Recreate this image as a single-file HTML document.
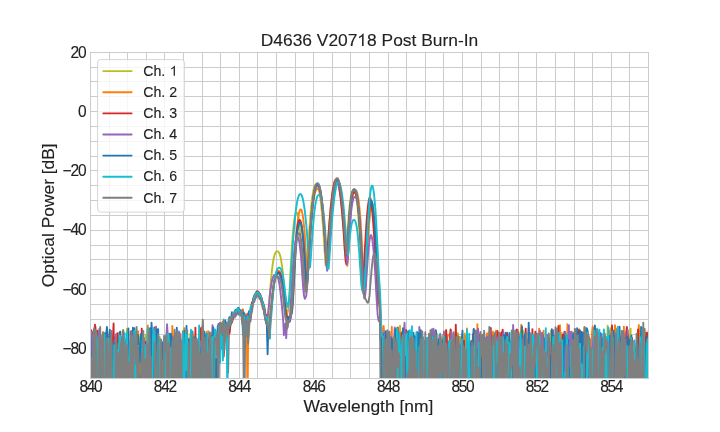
<!DOCTYPE html><html><head><meta charset="utf-8"><style>html,body{margin:0;padding:0;background:#fff;overflow:hidden}svg{display:block;will-change:transform}</style></head><body>
<svg width="720" height="432" viewBox="0 0 720 432" font-family="Liberation Sans, sans-serif">
<style>text{stroke:#222;stroke-width:0.12px}</style>
<rect width="720" height="432" fill="#fff"/>
<defs><clipPath id="ax"><rect x="90.0" y="52.0" width="559.0" height="327.0"/></clipPath></defs>
<path d="M90.5 52.5V378.5M109.5 52.5V378.5M127.5 52.5V378.5M146.5 52.5V378.5M164.5 52.5V378.5M183.5 52.5V378.5M202.5 52.5V378.5M220.5 52.5V378.5M239.5 52.5V378.5M257.5 52.5V378.5M276.5 52.5V378.5M295.5 52.5V378.5M313.5 52.5V378.5M332.5 52.5V378.5M350.5 52.5V378.5M369.5 52.5V378.5M388.5 52.5V378.5M406.5 52.5V378.5M425.5 52.5V378.5M443.5 52.5V378.5M462.5 52.5V378.5M481.5 52.5V378.5M499.5 52.5V378.5M518.5 52.5V378.5M536.5 52.5V378.5M555.5 52.5V378.5M574.5 52.5V378.5M592.5 52.5V378.5M611.5 52.5V378.5M629.5 52.5V378.5M648.5 52.5V378.5M90.5 52.5H648.5M90.5 67.5H648.5M90.5 81.5H648.5M90.5 96.5H648.5M90.5 111.5H648.5M90.5 126.5H648.5M90.5 141.5H648.5M90.5 156.5H648.5M90.5 170.5H648.5M90.5 185.5H648.5M90.5 200.5H648.5M90.5 215.5H648.5M90.5 230.5H648.5M90.5 245.5H648.5M90.5 259.5H648.5M90.5 274.5H648.5M90.5 289.5H648.5M90.5 304.5H648.5M90.5 319.5H648.5M90.5 334.5H648.5M90.5 348.5H648.5M90.5 363.5H648.5M90.5 378.5H648.5" stroke="#cccccc" stroke-width="1" fill="none"/>
<g clip-path="url(#ax)" fill="none" stroke-width="1.9" stroke-linejoin="round" stroke-linecap="round">
<path d="M90.5 408.1L91.2 353.2L92.0 408.1L92.7 408.1L93.5 408.1L94.2 408.1L95.0 373.8L95.7 333.8L96.5 408.1L97.2 408.1L97.9 346.8L98.7 350.9L99.4 366.6L100.2 408.1L100.9 408.1L101.7 342.3L102.4 408.1L103.1 408.1L103.9 408.1L104.6 408.1L105.4 408.1L106.1 408.1L106.9 408.1L107.6 354.4L108.4 361.5L109.1 408.1L109.8 408.1L110.6 408.1L111.3 408.1L112.1 365.6L112.8 408.1L113.6 408.1L114.3 408.1L115.1 408.1L115.8 336.8L116.5 408.1L117.3 408.1L118.0 339.2L118.8 408.1L119.5 408.1L120.3 366.0L121.0 373.0L121.7 408.1L122.5 370.7L123.2 333.7L124.0 408.1L124.7 339.6L125.5 365.0L126.2 408.1L127.0 328.7L127.7 341.1L128.4 408.1L129.2 371.0L129.9 344.7L130.7 408.1L131.4 342.5L132.2 408.1L132.9 342.8L133.7 332.9L134.4 408.1L135.1 358.1L135.9 408.1L136.6 364.1L137.4 408.1L138.1 408.1L138.9 408.1L139.6 339.0L140.3 335.9L141.1 408.1L141.8 408.1L142.6 343.2L143.3 408.1L144.1 408.1L144.8 408.1L145.6 334.7L146.3 342.4L147.0 408.1L147.8 408.1L148.5 408.1L149.3 332.2L150.0 408.1L150.8 408.1L151.5 351.0L152.3 408.1L153.0 408.1L153.7 408.1L154.5 408.1L155.2 408.1L156.0 335.6L156.7 343.1L157.5 408.1L158.2 342.8L158.9 408.1L159.7 336.9L160.4 408.1L161.2 344.5L161.9 408.1L162.7 351.2L163.4 408.1L164.2 408.1L164.9 408.1L165.6 408.1L166.4 360.9L167.1 327.2L167.9 408.1L168.6 408.1L169.4 358.0L170.1 346.7L170.9 408.1L171.6 408.1L172.3 342.1L173.1 346.0L173.8 408.1L174.6 408.1L175.3 380.6L176.1 408.1L176.8 354.9L177.5 408.1L178.3 338.0L179.0 358.8L179.8 368.7L180.5 408.1L181.3 408.1L182.0 408.1L182.8 408.1L183.5 350.7L184.2 408.1L185.0 339.7L185.7 408.1L186.5 341.2L187.2 408.1L188.0 340.8L188.7 363.8L189.5 408.1L190.2 334.7L190.9 332.9L191.7 408.1L192.4 408.1L193.2 408.1L193.9 408.1L194.7 336.4L195.4 408.1L196.1 408.1L196.9 408.1L197.6 408.1L198.4 408.1L199.1 334.7L199.9 408.1L200.6 338.0L201.4 393.2L202.1 408.1L202.8 408.1L203.6 408.1L204.3 399.1L205.1 408.1L205.8 408.1L206.6 408.1L207.3 408.1L208.1 331.0L208.8 408.1L209.5 408.1L210.3 350.0L211.0 332.6L211.8 408.1L212.5 408.1L213.3 408.1L214.0 408.1L214.7 335.9L215.5 346.2L216.2 341.2L217.0 366.6L217.7 332.4L218.5 342.4L219.2 334.5L220.0 347.1L220.7 346.1L221.4 322.7L222.2 333.2L222.9 327.2L223.7 329.2L224.4 332.4L225.2 333.1L225.9 325.6L226.7 331.2L227.4 329.5L228.1 327.3L228.9 321.0L229.6 321.4L230.4 320.8L231.1 322.3L231.9 323.0L232.6 314.3L233.3 312.8L234.1 313.6L234.8 311.5L235.6 310.3L236.3 309.7L237.1 309.3L237.8 310.9L238.6 308.7L239.3 312.7L240.0 310.6L240.8 312.1L241.5 312.7L242.3 309.5L243.0 311.7L243.8 328.0L244.5 344.5L245.3 317.7L246.0 335.6L246.7 323.5L247.5 317.4L248.2 337.9L249.0 335.6L249.7 312.7L250.5 310.1L251.2 307.4L251.9 303.7L252.7 301.7L253.4 299.5L254.2 296.4L254.9 295.0L255.7 293.8L256.4 291.8L257.2 291.4L257.9 291.2L258.6 292.4L259.4 293.3L260.1 294.9L260.9 296.7L261.6 298.3L262.4 301.5L263.1 303.3L263.9 306.3L264.6 307.1L265.3 317.2L266.1 314.9L266.8 320.7L267.6 321.0L268.3 320.8L269.1 307.2L269.8 295.4L270.5 285.8L271.3 277.1L272.0 269.8L272.8 263.9L273.5 259.3L274.3 255.9L275.0 253.6L275.8 252.2L276.5 251.5L277.2 251.3L278.0 251.5L278.7 252.1L279.5 253.6L280.2 255.9L281.0 259.3L281.7 263.8L282.5 269.7L283.2 276.8L283.9 285.2L284.7 294.2L285.4 303.1L286.2 309.9L286.9 314.3L287.7 312.2L288.4 309.6L289.1 299.1L289.9 285.3L290.6 269.9L291.4 255.9L292.1 243.8L292.9 233.7L293.6 225.7L294.4 219.6L295.1 215.5L295.8 213.2L296.6 212.5L297.3 213.2L298.1 215.5L298.8 219.6L299.6 225.7L300.3 233.7L301.1 243.7L301.8 255.6L302.5 268.9L303.3 281.9L304.0 290.2L304.8 292.7L305.5 289.7L306.3 281.9L307.0 269.7L307.7 256.2L308.5 243.2L309.2 231.4L310.0 221.0L310.7 211.9L311.5 204.2L312.2 197.9L313.0 192.9L313.7 189.1L314.4 186.4L315.2 184.8L315.9 184.1L316.7 184.1L317.4 184.8L318.2 186.4L318.9 189.1L319.7 192.9L320.4 197.9L321.1 204.2L321.9 211.9L322.6 220.9L323.4 231.3L324.1 243.0L324.9 255.3L325.6 265.2L326.3 265.5L327.1 256.6L327.8 245.4L328.6 234.4L329.3 224.3L330.1 215.1L330.8 206.9L331.6 199.8L332.3 193.7L333.0 188.7L333.8 184.8L334.5 181.9L335.3 180.1L336.0 179.4L336.8 179.6L337.5 180.9L338.3 183.2L339.0 186.6L339.7 191.1L340.5 196.6L341.2 203.2L342.0 210.8L342.7 219.5L343.5 229.2L344.2 239.8L344.9 250.6L345.7 257.4L346.4 251.6L347.2 238.9L347.9 226.6L348.7 216.2L349.4 207.7L350.2 201.1L350.9 196.2L351.6 193.0L352.4 191.1L353.1 190.4L353.9 190.4L354.6 191.1L355.4 193.0L356.1 196.2L356.9 201.1L357.6 207.7L358.3 216.2L359.1 226.7L359.8 239.2L360.6 253.7L361.3 269.4L362.1 283.1L362.8 291.4L363.5 293.6L364.3 291.9L365.0 285.9L365.8 273.8L366.5 259.3L367.3 245.3L368.0 232.9L368.8 222.4L369.5 214.0L370.2 207.7L371.0 203.7L371.7 202.2L372.5 203.7L373.2 207.7L374.0 214.0L374.7 222.4L375.5 232.9L376.2 245.4L376.9 259.5L377.7 274.9L378.4 289.9L379.2 300.2L379.9 305.8L380.7 327.0L381.4 355.3L382.1 408.1L382.9 408.1L383.6 340.5L384.4 408.1L385.1 357.3L385.9 337.6L386.6 408.1L387.4 408.1L388.1 360.0L388.8 349.7L389.6 408.1L390.3 337.2L391.1 357.7L391.8 408.1L392.6 408.1L393.3 340.4L394.1 347.5L394.8 408.1L395.5 333.8L396.3 344.2L397.0 333.8L397.8 408.1L398.5 408.1L399.3 408.1L400.0 325.6L400.7 408.1L401.5 331.7L402.2 408.1L403.0 360.9L403.7 408.1L404.5 408.1L405.2 337.8L406.0 408.1L406.7 336.7L407.4 351.6L408.2 408.1L408.9 408.1L409.7 408.1L410.4 408.1L411.2 408.1L411.9 408.1L412.7 408.1L413.4 408.1L414.1 408.1L414.9 408.1L415.6 339.2L416.4 408.1L417.1 408.1L417.9 408.1L418.6 408.1L419.3 339.6L420.1 408.1L420.8 332.4L421.6 408.1L422.3 349.8L423.1 408.1L423.8 408.1L424.6 344.4L425.3 408.1L426.0 344.1L426.8 408.1L427.5 408.1L428.3 408.1L429.0 375.7L429.8 338.1L430.5 408.1L431.3 408.1L432.0 408.1L432.7 343.1L433.5 408.1L434.2 408.1L435.0 408.1L435.7 336.3L436.5 408.1L437.2 408.1L437.9 408.1L438.7 408.1L439.4 350.1L440.2 408.1L440.9 408.1L441.7 344.5L442.4 408.1L443.2 348.4L443.9 408.1L444.6 408.1L445.4 408.1L446.1 329.6L446.9 408.1L447.6 355.8L448.4 408.1L449.1 361.2L449.9 376.2L450.6 329.3L451.3 408.1L452.1 408.1L452.8 408.1L453.6 408.1L454.3 341.4L455.1 340.2L455.8 408.1L456.5 408.1L457.3 408.1L458.0 333.4L458.8 408.1L459.5 345.9L460.3 408.1L461.0 337.1L461.8 408.1L462.5 408.1L463.2 408.1L464.0 408.1L464.7 333.4L465.5 340.1L466.2 408.1L467.0 408.1L467.7 408.1L468.5 408.1L469.2 408.1L469.9 408.1L470.7 408.1L471.4 408.1L472.2 408.1L472.9 408.1L473.7 334.3L474.4 329.6L475.1 408.1L475.9 408.1L476.6 408.1L477.4 408.1L478.1 408.1L478.9 408.1L479.6 408.1L480.4 344.0L481.1 408.1L481.8 355.4L482.6 408.1L483.3 408.1L484.1 408.1L484.8 408.1L485.6 408.1L486.3 356.3L487.1 408.1L487.8 408.1L488.5 372.4L489.3 408.1L490.0 408.1L490.8 408.1L491.5 408.1L492.3 368.4L493.0 361.9L493.7 408.1L494.5 408.1L495.2 408.1L496.0 408.1L496.7 408.1L497.5 408.1L498.2 368.4L499.0 408.1L499.7 356.2L500.4 362.6L501.2 408.1L501.9 408.1L502.7 345.2L503.4 408.1L504.2 347.6L504.9 355.8L505.7 353.8L506.4 349.9L507.1 408.1L507.9 408.1L508.6 343.4L509.4 348.4L510.1 357.9L510.9 408.1L511.6 345.6L512.3 335.6L513.1 337.5L513.8 356.3L514.6 408.1L515.3 338.4L516.1 408.1L516.8 408.1L517.6 350.2L518.3 408.1L519.0 408.1L519.8 408.1L520.5 334.5L521.3 408.1L522.0 354.4L522.8 330.4L523.5 331.6L524.3 408.1L525.0 408.1L525.7 408.1L526.5 408.1L527.2 348.6L528.0 349.5L528.7 366.0L529.5 337.7L530.2 408.1L530.9 408.1L531.7 341.6L532.4 344.5L533.2 336.7L533.9 349.5L534.7 408.1L535.4 350.7L536.2 408.1L536.9 408.1L537.6 344.6L538.4 408.1L539.1 352.7L539.9 408.1L540.6 408.1L541.4 408.1L542.1 408.1L542.9 408.1L543.6 408.1L544.3 339.0L545.1 350.0L545.8 408.1L546.6 408.1L547.3 341.2L548.1 408.1L548.8 408.1L549.5 345.5L550.3 342.5L551.0 330.8L551.8 336.0L552.5 352.6L553.3 353.0L554.0 340.7L554.8 408.1L555.5 408.1L556.2 338.9L557.0 329.0L557.7 408.1L558.5 408.1L559.2 358.4L560.0 333.8L560.7 408.1L561.5 332.6L562.2 408.1L562.9 408.1L563.7 408.1L564.4 340.7L565.2 337.0L565.9 408.1L566.7 408.1L567.4 351.6L568.1 408.1L568.9 408.1L569.6 337.1L570.4 346.7L571.1 346.7L571.9 408.1L572.6 337.2L573.4 408.1L574.1 336.4L574.8 408.1L575.6 408.1L576.3 358.0L577.1 408.1L577.8 342.7L578.6 354.9L579.3 408.1L580.1 371.3L580.8 408.1L581.5 338.7L582.3 408.1L583.0 408.1L583.8 335.1L584.5 327.2L585.3 328.7L586.0 373.1L586.7 357.2L587.5 332.1L588.2 408.1L589.0 408.1L589.7 365.2L590.5 347.8L591.2 408.1L592.0 408.1L592.7 408.1L593.4 342.8L594.2 408.1L594.9 408.1L595.7 357.5L596.4 343.8L597.2 408.1L597.9 346.6L598.7 408.1L599.4 408.1L600.1 408.1L600.9 336.0L601.6 408.1L602.4 408.1L603.1 408.1L603.9 408.1L604.6 342.2L605.3 408.1L606.1 408.1L606.8 408.1L607.6 325.6L608.3 338.2L609.1 408.1L609.8 342.0L610.6 328.3L611.3 408.1L612.0 408.1L612.8 335.1L613.5 346.7L614.3 342.7L615.0 408.1L615.8 329.2L616.5 330.7L617.3 344.9L618.0 342.5L618.7 408.1L619.5 343.4L620.2 408.1L621.0 348.3L621.7 342.5L622.5 408.1L623.2 408.1L623.9 350.5L624.7 408.1L625.4 408.1L626.2 408.1L626.9 408.1L627.7 408.1L628.4 335.1L629.2 355.3L629.9 336.2L630.6 328.8L631.4 386.4L632.1 408.1L632.9 408.1L633.6 408.1L634.4 408.1L635.1 370.2L635.9 408.1L636.6 351.4L637.3 408.1L638.1 353.2L638.8 408.1L639.6 408.1L640.3 408.1L641.1 408.1L641.8 408.1L642.5 408.1L643.3 408.1L644.0 329.7L644.8 328.8L645.5 334.0L646.3 342.1L647.0 408.1L647.8 332.9L648.5 408.1" stroke="#bcbd22"/>
<path d="M90.5 408.1L91.2 408.1L92.0 368.3L92.7 408.1L93.5 408.1L94.2 408.1L95.0 408.1L95.7 327.0L96.5 408.1L97.2 408.1L97.9 345.7L98.7 342.0L99.4 408.1L100.2 408.1L100.9 338.7L101.7 354.5L102.4 364.7L103.1 331.9L103.9 408.1L104.6 369.7L105.4 408.1L106.1 332.5L106.9 408.1L107.6 408.1L108.4 408.1L109.1 342.9L109.8 344.0L110.6 333.3L111.3 408.1L112.1 341.3L112.8 408.1L113.6 408.1L114.3 345.5L115.1 408.1L115.8 408.1L116.5 408.1L117.3 408.1L118.0 408.1L118.8 350.3L119.5 352.6L120.3 331.7L121.0 408.1L121.7 408.1L122.5 408.1L123.2 408.1L124.0 408.1L124.7 348.3L125.5 408.1L126.2 408.1L127.0 342.2L127.7 408.1L128.4 350.9L129.2 366.5L129.9 343.5L130.7 379.7L131.4 334.9L132.2 348.6L132.9 349.7L133.7 349.1L134.4 408.1L135.1 408.1L135.9 408.1L136.6 357.8L137.4 408.1L138.1 331.3L138.9 366.7L139.6 408.1L140.3 408.1L141.1 408.1L141.8 408.1L142.6 408.1L143.3 368.3L144.1 408.1L144.8 345.3L145.6 408.1L146.3 408.1L147.0 337.9L147.8 325.4L148.5 408.1L149.3 408.1L150.0 408.1L150.8 340.7L151.5 408.1L152.3 408.1L153.0 408.1L153.7 408.1L154.5 408.1L155.2 408.1L156.0 408.1L156.7 408.1L157.5 408.1L158.2 362.2L158.9 408.1L159.7 408.1L160.4 408.1L161.2 340.5L161.9 345.2L162.7 408.1L163.4 408.1L164.2 343.5L164.9 408.1L165.6 408.1L166.4 408.1L167.1 332.8L167.9 357.1L168.6 335.7L169.4 408.1L170.1 338.4L170.9 408.1L171.6 408.1L172.3 325.9L173.1 341.0L173.8 408.1L174.6 408.1L175.3 352.0L176.1 335.1L176.8 408.1L177.5 408.1L178.3 408.1L179.0 391.3L179.8 366.1L180.5 334.1L181.3 352.4L182.0 340.3L182.8 408.1L183.5 339.4L184.2 328.1L185.0 340.9L185.7 355.3L186.5 361.7L187.2 330.1L188.0 408.1L188.7 408.1L189.5 347.6L190.2 341.4L190.9 408.1L191.7 352.8L192.4 408.1L193.2 364.8L193.9 408.1L194.7 408.1L195.4 408.1L196.1 339.3L196.9 408.1L197.6 408.1L198.4 342.9L199.1 408.1L199.9 359.5L200.6 408.1L201.4 336.0L202.1 326.8L202.8 328.5L203.6 408.1L204.3 341.5L205.1 364.7L205.8 366.8L206.6 332.0L207.3 408.1L208.1 336.8L208.8 408.1L209.5 332.9L210.3 356.5L211.0 408.1L211.8 350.1L212.5 339.2L213.3 355.4L214.0 340.7L214.7 408.1L215.5 408.1L216.2 331.7L217.0 331.9L217.7 335.4L218.5 334.2L219.2 326.1L220.0 336.0L220.7 337.3L221.4 331.1L222.2 323.0L222.9 344.9L223.7 322.8L224.4 334.2L225.2 340.1L225.9 322.7L226.7 329.7L227.4 341.6L228.1 329.7L228.9 321.9L229.6 319.7L230.4 324.0L231.1 318.9L231.9 316.4L232.6 318.1L233.3 314.0L234.1 313.4L234.8 313.0L235.6 312.0L236.3 310.6L237.1 310.3L237.8 311.0L238.6 311.1L239.3 309.6L240.0 311.5L240.8 311.5L241.5 312.2L242.3 313.4L243.0 309.5L243.8 325.0L244.5 316.8L245.3 325.4L246.0 314.0L246.7 314.7L247.5 408.1L248.2 329.3L249.0 315.1L249.7 312.0L250.5 309.3L251.2 308.3L251.9 304.2L252.7 301.6L253.4 299.7L254.2 296.9L254.9 297.0L255.7 293.9L256.4 293.7L257.2 292.2L257.9 292.7L258.6 293.6L259.4 294.0L260.1 296.2L260.9 298.0L261.6 300.9L262.4 302.2L263.1 304.4L263.9 306.7L264.6 311.8L265.3 312.9L266.1 319.0L266.8 323.5L267.6 323.8L268.3 323.7L269.1 334.4L269.8 328.9L270.5 319.6L271.3 309.4L272.0 300.9L272.8 292.4L273.5 286.2L274.3 280.9L275.0 277.0L275.8 274.1L276.5 272.2L277.2 271.2L278.0 270.8L278.7 270.8L279.5 271.1L280.2 272.1L281.0 274.1L281.7 276.9L282.5 280.7L283.2 285.7L283.9 291.9L284.7 299.1L285.4 307.6L286.2 312.9L286.9 320.3L287.7 317.0L288.4 318.4L289.1 317.3L289.9 315.3L290.6 313.4L291.4 313.9L292.1 311.1L292.9 303.1L293.6 290.1L294.4 274.3L295.1 259.4L295.8 246.3L296.6 235.2L297.3 226.2L298.1 219.1L298.8 214.1L299.6 210.9L300.3 209.4L301.1 209.4L301.8 210.9L302.5 214.1L303.3 219.1L304.0 226.2L304.8 235.2L305.5 246.2L306.3 258.9L307.0 271.5L307.7 276.2L308.5 267.1L309.2 254.3L310.0 241.9L310.7 230.7L311.5 221.0L312.2 212.6L313.0 205.6L313.7 200.0L314.4 195.5L315.2 192.3L315.9 190.2L316.7 189.1L317.4 188.8L318.2 189.1L318.9 190.2L319.7 192.3L320.4 195.5L321.1 200.0L321.9 205.6L322.6 212.6L323.4 221.0L324.1 230.7L324.9 241.7L325.6 253.6L326.3 264.3L327.1 267.0L327.8 259.5L328.6 248.4L329.3 237.2L330.1 226.7L330.8 217.3L331.6 208.8L332.3 201.5L333.0 195.1L333.8 189.9L334.5 185.7L335.3 182.6L336.0 180.5L336.8 179.5L337.5 179.5L338.3 180.5L339.0 182.6L339.7 185.7L340.5 189.9L341.2 195.1L342.0 201.5L342.7 208.8L343.5 217.3L344.2 226.7L344.9 237.2L345.7 248.3L346.4 259.4L347.2 265.9L347.9 259.4L348.7 245.9L349.4 232.6L350.2 221.2L350.9 211.7L351.6 204.2L352.4 198.4L353.1 194.4L353.9 191.9L354.6 190.6L355.4 190.3L356.1 190.6L356.9 191.9L357.6 194.4L358.3 198.4L359.1 204.2L359.8 211.7L360.6 221.2L361.3 232.7L362.1 246.3L362.8 261.5L363.5 276.9L364.3 287.5L365.0 287.7L365.8 278.2L366.5 264.5L367.3 250.8L368.0 238.5L368.8 228.0L369.5 219.6L370.2 213.3L371.0 209.3L371.7 207.8L372.5 209.3L373.2 213.3L374.0 219.6L374.7 228.1L375.5 238.5L376.2 251.0L376.9 265.1L377.7 280.2L378.4 294.4L379.2 305.8L379.9 310.1L380.7 320.3L381.4 340.8L382.1 366.3L382.9 336.6L383.6 326.0L384.4 334.2L385.1 362.9L385.9 350.9L386.6 343.8L387.4 408.1L388.1 408.1L388.8 375.5L389.6 408.1L390.3 408.1L391.1 367.7L391.8 326.7L392.6 408.1L393.3 408.1L394.1 408.1L394.8 348.2L395.5 337.0L396.3 408.1L397.0 408.1L397.8 408.1L398.5 408.1L399.3 345.6L400.0 377.3L400.7 408.1L401.5 408.1L402.2 382.1L403.0 346.4L403.7 408.1L404.5 408.1L405.2 408.1L406.0 408.1L406.7 331.4L407.4 408.1L408.2 408.1L408.9 357.1L409.7 408.1L410.4 408.1L411.2 408.1L411.9 408.1L412.7 408.1L413.4 408.1L414.1 408.1L414.9 408.1L415.6 408.1L416.4 356.7L417.1 343.3L417.9 339.0L418.6 408.1L419.3 338.6L420.1 335.5L420.8 336.0L421.6 333.4L422.3 408.1L423.1 408.1L423.8 340.1L424.6 408.1L425.3 357.7L426.0 408.1L426.8 408.1L427.5 408.1L428.3 408.1L429.0 408.1L429.8 339.1L430.5 337.7L431.3 408.1L432.0 408.1L432.7 408.1L433.5 349.3L434.2 408.1L435.0 344.1L435.7 330.4L436.5 408.1L437.2 408.1L437.9 408.1L438.7 408.1L439.4 408.1L440.2 334.2L440.9 356.7L441.7 408.1L442.4 343.1L443.2 334.6L443.9 408.1L444.6 408.1L445.4 408.1L446.1 353.8L446.9 343.3L447.6 335.4L448.4 335.1L449.1 335.4L449.9 333.6L450.6 342.9L451.3 408.1L452.1 408.1L452.8 352.5L453.6 408.1L454.3 338.8L455.1 408.1L455.8 408.1L456.5 332.9L457.3 342.8L458.0 357.1L458.8 338.6L459.5 336.8L460.3 351.4L461.0 408.1L461.8 408.1L462.5 408.1L463.2 408.1L464.0 358.4L464.7 335.3L465.5 408.1L466.2 408.1L467.0 328.5L467.7 408.1L468.5 408.1L469.2 356.1L469.9 348.6L470.7 408.1L471.4 340.6L472.2 408.1L472.9 408.1L473.7 359.8L474.4 341.0L475.1 408.1L475.9 351.8L476.6 408.1L477.4 324.2L478.1 408.1L478.9 333.4L479.6 408.1L480.4 408.1L481.1 341.8L481.8 339.0L482.6 334.6L483.3 351.9L484.1 408.1L484.8 408.1L485.6 346.3L486.3 344.6L487.1 333.3L487.8 348.8L488.5 336.8L489.3 332.2L490.0 360.8L490.8 408.1L491.5 408.1L492.3 408.1L493.0 331.6L493.7 408.1L494.5 334.9L495.2 344.5L496.0 330.7L496.7 337.6L497.5 408.1L498.2 408.1L499.0 369.3L499.7 360.0L500.4 408.1L501.2 408.1L501.9 331.5L502.7 408.1L503.4 355.0L504.2 408.1L504.9 359.2L505.7 339.8L506.4 408.1L507.1 340.9L507.9 408.1L508.6 336.3L509.4 408.1L510.1 343.7L510.9 359.5L511.6 408.1L512.3 408.1L513.1 357.1L513.8 331.9L514.6 353.7L515.3 355.1L516.1 408.1L516.8 333.0L517.6 330.0L518.3 383.4L519.0 408.1L519.8 408.1L520.5 339.2L521.3 324.8L522.0 341.9L522.8 334.6L523.5 345.5L524.3 408.1L525.0 333.9L525.7 408.1L526.5 408.1L527.2 354.0L528.0 339.2L528.7 348.9L529.5 349.8L530.2 408.1L530.9 408.1L531.7 373.5L532.4 408.1L533.2 408.1L533.9 408.1L534.7 408.1L535.4 408.1L536.2 408.1L536.9 408.1L537.6 359.5L538.4 349.1L539.1 328.6L539.9 408.1L540.6 408.1L541.4 338.8L542.1 408.1L542.9 408.1L543.6 330.7L544.3 408.1L545.1 408.1L545.8 408.1L546.6 351.7L547.3 352.9L548.1 408.1L548.8 408.1L549.5 345.7L550.3 344.7L551.0 408.1L551.8 343.7L552.5 344.8L553.3 408.1L554.0 408.1L554.8 348.9L555.5 408.1L556.2 408.1L557.0 408.1L557.7 341.3L558.5 331.7L559.2 408.1L560.0 325.2L560.7 408.1L561.5 338.2L562.2 334.9L562.9 337.8L563.7 362.1L564.4 408.1L565.2 343.6L565.9 408.1L566.7 408.1L567.4 324.2L568.1 342.0L568.9 329.9L569.6 408.1L570.4 332.7L571.1 331.6L571.9 331.9L572.6 408.1L573.4 408.1L574.1 408.1L574.8 408.1L575.6 408.1L576.3 368.3L577.1 408.1L577.8 408.1L578.6 408.1L579.3 329.1L580.1 334.2L580.8 408.1L581.5 335.2L582.3 408.1L583.0 408.1L583.8 338.8L584.5 408.1L585.3 408.1L586.0 408.1L586.7 365.2L587.5 331.3L588.2 408.1L589.0 356.8L589.7 408.1L590.5 408.1L591.2 408.1L592.0 332.8L592.7 326.5L593.4 347.0L594.2 408.1L594.9 342.1L595.7 408.1L596.4 340.5L597.2 353.5L597.9 354.0L598.7 344.0L599.4 408.1L600.1 408.1L600.9 408.1L601.6 408.1L602.4 408.1L603.1 408.1L603.9 408.1L604.6 367.1L605.3 347.8L606.1 408.1L606.8 408.1L607.6 408.1L608.3 341.4L609.1 330.7L609.8 339.7L610.6 408.1L611.3 332.7L612.0 408.1L612.8 332.4L613.5 408.1L614.3 408.1L615.0 325.1L615.8 331.7L616.5 408.1L617.3 360.5L618.0 408.1L618.7 367.0L619.5 408.1L620.2 408.1L621.0 347.4L621.7 356.9L622.5 335.3L623.2 370.2L623.9 326.6L624.7 408.1L625.4 355.0L626.2 408.1L626.9 408.1L627.7 333.9L628.4 408.1L629.2 345.8L629.9 408.1L630.6 408.1L631.4 408.1L632.1 408.1L632.9 408.1L633.6 341.2L634.4 343.1L635.1 408.1L635.9 408.1L636.6 353.9L637.3 408.1L638.1 337.2L638.8 325.0L639.6 339.8L640.3 408.1L641.1 408.1L641.8 408.1L642.5 408.1L643.3 408.1L644.0 408.1L644.8 408.1L645.5 341.4L646.3 408.1L647.0 408.1L647.8 408.1L648.5 331.2" stroke="#ff7f0e"/>
<path d="M90.5 346.3L91.2 330.1L92.0 340.5L92.7 332.5L93.5 408.1L94.2 341.9L95.0 324.8L95.7 408.1L96.5 335.5L97.2 330.8L97.9 348.7L98.7 341.0L99.4 334.4L100.2 408.1L100.9 348.8L101.7 408.1L102.4 408.1L103.1 408.1L103.9 408.1L104.6 362.0L105.4 347.5L106.1 408.1L106.9 328.5L107.6 335.4L108.4 341.4L109.1 408.1L109.8 408.1L110.6 345.0L111.3 348.7L112.1 408.1L112.8 341.1L113.6 323.5L114.3 408.1L115.1 337.4L115.8 350.1L116.5 408.1L117.3 333.2L118.0 408.1L118.8 360.6L119.5 332.4L120.3 408.1L121.0 408.1L121.7 365.1L122.5 408.1L123.2 331.6L124.0 408.1L124.7 339.0L125.5 408.1L126.2 342.4L127.0 408.1L127.7 408.1L128.4 408.1L129.2 408.1L129.9 408.1L130.7 331.7L131.4 408.1L132.2 408.1L132.9 332.5L133.7 365.0L134.4 331.7L135.1 351.8L135.9 408.1L136.6 408.1L137.4 334.6L138.1 338.0L138.9 408.1L139.6 376.1L140.3 408.1L141.1 408.1L141.8 328.8L142.6 400.8L143.3 408.1L144.1 408.1L144.8 341.4L145.6 343.0L146.3 408.1L147.0 408.1L147.8 385.3L148.5 408.1L149.3 408.1L150.0 340.1L150.8 408.1L151.5 349.9L152.3 334.7L153.0 342.8L153.7 387.2L154.5 327.5L155.2 342.4L156.0 408.1L156.7 341.3L157.5 348.8L158.2 408.1L158.9 370.9L159.7 408.1L160.4 408.1L161.2 408.1L161.9 408.1L162.7 408.1L163.4 408.1L164.2 408.1L164.9 408.1L165.6 366.6L166.4 408.1L167.1 343.1L167.9 408.1L168.6 408.1L169.4 333.8L170.1 408.1L170.9 408.1L171.6 336.3L172.3 408.1L173.1 408.1L173.8 356.7L174.6 336.6L175.3 408.1L176.1 408.1L176.8 408.1L177.5 408.1L178.3 408.1L179.0 408.1L179.8 352.7L180.5 408.1L181.3 364.3L182.0 349.0L182.8 408.1L183.5 363.5L184.2 330.9L185.0 351.9L185.7 408.1L186.5 408.1L187.2 408.1L188.0 354.1L188.7 339.2L189.5 408.1L190.2 408.1L190.9 335.9L191.7 408.1L192.4 358.8L193.2 408.1L193.9 408.1L194.7 408.1L195.4 327.6L196.1 408.1L196.9 408.1L197.6 408.1L198.4 408.1L199.1 343.0L199.9 359.0L200.6 328.3L201.4 357.5L202.1 332.8L202.8 354.1L203.6 344.1L204.3 408.1L205.1 408.1L205.8 408.1L206.6 408.1L207.3 408.1L208.1 339.1L208.8 408.1L209.5 408.1L210.3 408.1L211.0 408.1L211.8 346.3L212.5 408.1L213.3 408.1L214.0 344.4L214.7 345.3L215.5 361.3L216.2 365.7L217.0 386.2L217.7 337.8L218.5 326.3L219.2 350.8L220.0 323.0L220.7 325.4L221.4 333.4L222.2 324.8L222.9 346.8L223.7 356.5L224.4 343.0L225.2 332.3L225.9 331.6L226.7 333.0L227.4 327.8L228.1 372.3L228.9 323.6L229.6 333.2L230.4 325.1L231.1 321.7L231.9 322.1L232.6 320.4L233.3 317.2L234.1 313.4L234.8 311.4L235.6 310.6L236.3 312.0L237.1 311.4L237.8 311.5L238.6 310.0L239.3 314.0L240.0 310.1L240.8 313.5L241.5 315.5L242.3 314.3L243.0 313.2L243.8 317.5L244.5 315.6L245.3 321.7L246.0 316.4L246.7 316.3L247.5 323.1L248.2 313.5L249.0 316.3L249.7 313.4L250.5 313.1L251.2 307.6L251.9 302.6L252.7 302.2L253.4 298.1L254.2 296.1L254.9 294.4L255.7 294.1L256.4 292.1L257.2 291.2L257.9 291.7L258.6 292.0L259.4 294.1L260.1 294.1L260.9 296.7L261.6 297.9L262.4 302.6L263.1 303.2L263.9 307.3L264.6 309.1L265.3 316.5L266.1 320.2L266.8 315.0L267.6 332.4L268.3 336.9L269.1 333.9L269.8 338.1L270.5 316.6L271.3 309.4L272.0 302.3L272.8 294.6L273.5 287.4L274.3 282.3L275.0 278.4L275.8 275.5L276.5 273.8L277.2 272.7L278.0 272.4L278.7 272.4L279.5 272.6L280.2 273.7L281.0 275.4L281.7 278.3L282.5 282.3L283.2 287.1L283.9 293.0L284.7 300.3L285.4 308.9L286.2 313.9L286.9 316.2L287.7 320.6L288.4 320.8L289.1 316.6L289.9 316.8L290.6 317.0L291.4 312.6L292.1 305.0L292.9 291.6L293.6 277.0L294.4 263.1L295.1 251.1L295.8 241.1L296.6 233.1L297.3 227.0L298.1 222.9L298.8 220.6L299.6 219.9L300.3 220.6L301.1 222.9L301.8 227.0L302.5 233.0L303.3 241.0L304.0 250.9L304.8 262.6L305.5 275.0L306.3 284.7L307.0 285.4L307.7 276.3L308.5 263.3L309.2 249.9L310.0 237.5L310.7 226.3L311.5 216.5L312.2 208.2L313.0 201.2L313.7 195.5L314.4 191.1L315.2 187.9L315.9 185.8L316.7 184.7L317.4 184.4L318.2 184.7L318.9 185.8L319.7 187.9L320.4 191.1L321.1 195.5L321.9 201.2L322.6 208.2L323.4 216.5L324.1 226.2L324.9 237.2L325.6 248.8L326.3 257.2L327.1 255.0L327.8 245.2L328.6 234.4L329.3 224.3L330.1 215.1L330.8 206.9L331.6 199.8L332.3 193.7L333.0 188.7L333.8 184.8L334.5 181.9L335.3 180.1L336.0 179.4L336.8 179.6L337.5 180.9L338.3 183.2L339.0 186.6L339.7 191.1L340.5 196.6L341.2 203.2L342.0 210.8L342.7 219.5L343.5 229.3L344.2 239.9L344.9 251.2L345.7 261.5L346.4 264.2L347.2 254.3L347.9 240.8L348.7 228.4L349.4 217.9L350.2 209.5L350.9 202.9L351.6 198.0L352.4 194.7L353.1 192.9L353.9 192.1L354.6 192.1L355.4 192.9L356.1 194.7L356.9 198.0L357.6 202.9L358.3 209.5L359.1 218.0L359.8 228.5L360.6 241.0L361.3 255.3L362.1 270.2L362.8 280.2L363.5 275.6L364.3 261.9L365.0 247.4L365.8 234.1L366.5 222.7L367.3 213.2L368.0 205.8L368.8 200.6L369.5 197.8L370.2 197.8L371.0 200.6L371.7 205.8L372.5 213.2L373.2 222.7L374.0 234.2L374.7 247.5L375.5 262.5L376.2 277.9L376.9 291.3L377.7 299.4L378.4 303.3L379.2 302.9L379.9 305.3L380.7 320.5L381.4 328.4L382.1 408.1L382.9 339.8L383.6 408.1L384.4 408.1L385.1 408.1L385.9 408.1L386.6 336.2L387.4 364.5L388.1 408.1L388.8 408.1L389.6 351.4L390.3 408.1L391.1 408.1L391.8 408.1L392.6 408.1L393.3 408.1L394.1 408.1L394.8 328.7L395.5 333.9L396.3 347.9L397.0 408.1L397.8 327.5L398.5 352.1L399.3 408.1L400.0 353.0L400.7 352.8L401.5 333.2L402.2 408.1L403.0 328.1L403.7 408.1L404.5 342.3L405.2 408.1L406.0 329.9L406.7 408.1L407.4 408.1L408.2 338.6L408.9 334.7L409.7 408.1L410.4 408.1L411.2 408.1L411.9 363.2L412.7 408.1L413.4 408.1L414.1 408.1L414.9 408.1L415.6 408.1L416.4 345.8L417.1 332.2L417.9 408.1L418.6 408.1L419.3 408.1L420.1 346.7L420.8 408.1L421.6 408.1L422.3 408.1L423.1 342.3L423.8 367.3L424.6 408.1L425.3 350.4L426.0 408.1L426.8 408.1L427.5 344.3L428.3 353.6L429.0 408.1L429.8 337.8L430.5 335.1L431.3 408.1L432.0 408.1L432.7 332.0L433.5 333.1L434.2 408.1L435.0 408.1L435.7 408.1L436.5 408.1L437.2 408.1L437.9 382.2L438.7 408.1L439.4 408.1L440.2 338.7L440.9 408.1L441.7 408.1L442.4 343.6L443.2 340.3L443.9 408.1L444.6 377.8L445.4 408.1L446.1 330.4L446.9 343.1L447.6 408.1L448.4 408.1L449.1 341.9L449.9 347.1L450.6 329.8L451.3 333.5L452.1 408.1L452.8 408.1L453.6 408.1L454.3 355.5L455.1 361.9L455.8 324.8L456.5 367.6L457.3 408.1L458.0 408.1L458.8 365.7L459.5 408.1L460.3 408.1L461.0 408.1L461.8 351.4L462.5 408.1L463.2 408.1L464.0 340.7L464.7 408.1L465.5 408.1L466.2 408.1L467.0 408.1L467.7 343.1L468.5 408.1L469.2 408.1L469.9 341.9L470.7 408.1L471.4 356.0L472.2 408.1L472.9 334.1L473.7 336.4L474.4 356.2L475.1 408.1L475.9 408.1L476.6 337.9L477.4 330.7L478.1 353.2L478.9 334.8L479.6 408.1L480.4 408.1L481.1 408.1L481.8 348.7L482.6 408.1L483.3 338.4L484.1 334.0L484.8 408.1L485.6 408.1L486.3 351.1L487.1 408.1L487.8 408.1L488.5 340.3L489.3 361.5L490.0 408.1L490.8 328.0L491.5 363.0L492.3 408.1L493.0 367.1L493.7 408.1L494.5 408.1L495.2 349.8L496.0 408.1L496.7 408.1L497.5 331.0L498.2 339.5L499.0 340.4L499.7 345.8L500.4 346.9L501.2 332.8L501.9 408.1L502.7 329.6L503.4 408.1L504.2 408.1L504.9 408.1L505.7 408.1L506.4 346.1L507.1 332.8L507.9 408.1L508.6 405.0L509.4 408.1L510.1 408.1L510.9 408.1L511.6 373.7L512.3 408.1L513.1 365.9L513.8 387.4L514.6 408.1L515.3 408.1L516.1 408.1L516.8 329.5L517.6 408.1L518.3 331.9L519.0 344.2L519.8 408.1L520.5 408.1L521.3 337.1L522.0 330.5L522.8 408.1L523.5 408.1L524.3 337.0L525.0 351.6L525.7 328.7L526.5 408.1L527.2 345.5L528.0 408.1L528.7 328.1L529.5 408.1L530.2 408.1L530.9 408.1L531.7 408.1L532.4 329.2L533.2 408.1L533.9 408.1L534.7 344.3L535.4 331.7L536.2 408.1L536.9 337.1L537.6 346.1L538.4 408.1L539.1 370.5L539.9 383.3L540.6 408.1L541.4 335.1L542.1 408.1L542.9 335.6L543.6 338.2L544.3 408.1L545.1 408.1L545.8 408.1L546.6 347.2L547.3 341.4L548.1 353.7L548.8 337.7L549.5 408.1L550.3 356.3L551.0 408.1L551.8 341.1L552.5 361.7L553.3 408.1L554.0 335.7L554.8 342.3L555.5 408.1L556.2 379.1L557.0 408.1L557.7 336.8L558.5 325.9L559.2 408.1L560.0 371.0L560.7 408.1L561.5 351.1L562.2 343.3L562.9 334.4L563.7 408.1L564.4 331.8L565.2 408.1L565.9 354.1L566.7 335.7L567.4 342.0L568.1 408.1L568.9 408.1L569.6 408.1L570.4 408.1L571.1 335.8L571.9 408.1L572.6 347.4L573.4 344.0L574.1 345.1L574.8 347.4L575.6 332.2L576.3 346.8L577.1 339.6L577.8 345.0L578.6 330.1L579.3 408.1L580.1 334.4L580.8 408.1L581.5 408.1L582.3 408.1L583.0 408.1L583.8 408.1L584.5 408.1L585.3 346.7L586.0 408.1L586.7 333.0L587.5 354.4L588.2 408.1L589.0 408.1L589.7 408.1L590.5 408.1L591.2 408.1L592.0 403.3L592.7 408.1L593.4 408.1L594.2 408.1L594.9 408.1L595.7 361.2L596.4 329.6L597.2 343.7L597.9 408.1L598.7 408.1L599.4 408.1L600.1 408.1L600.9 341.7L601.6 408.1L602.4 373.3L603.1 408.1L603.9 368.4L604.6 333.3L605.3 408.1L606.1 408.1L606.8 408.1L607.6 339.3L608.3 408.1L609.1 408.1L609.8 408.1L610.6 408.1L611.3 347.3L612.0 325.5L612.8 408.1L613.5 338.2L614.3 355.4L615.0 408.1L615.8 408.1L616.5 408.1L617.3 408.1L618.0 329.1L618.7 408.1L619.5 350.0L620.2 351.8L621.0 408.1L621.7 362.1L622.5 339.3L623.2 361.8L623.9 348.8L624.7 342.3L625.4 408.1L626.2 332.6L626.9 327.0L627.7 337.9L628.4 337.4L629.2 408.1L629.9 408.1L630.6 408.1L631.4 408.1L632.1 338.0L632.9 408.1L633.6 408.1L634.4 408.1L635.1 408.1L635.9 368.6L636.6 408.1L637.3 408.1L638.1 329.4L638.8 408.1L639.6 408.1L640.3 408.1L641.1 335.3L641.8 328.0L642.5 351.8L643.3 408.1L644.0 408.1L644.8 336.8L645.5 408.1L646.3 332.8L647.0 333.1L647.8 371.8L648.5 343.2" stroke="#d62728"/>
<path d="M90.5 341.3L91.2 331.9L92.0 408.1L92.7 335.5L93.5 408.1L94.2 408.1L95.0 366.9L95.7 408.1L96.5 408.1L97.2 408.1L97.9 408.1L98.7 332.8L99.4 328.9L100.2 343.1L100.9 335.4L101.7 408.1L102.4 408.1L103.1 353.9L103.9 408.1L104.6 408.1L105.4 367.6L106.1 408.1L106.9 408.1L107.6 349.8L108.4 408.1L109.1 337.3L109.8 408.1L110.6 408.1L111.3 364.1L112.1 408.1L112.8 408.1L113.6 408.1L114.3 341.3L115.1 343.2L115.8 334.4L116.5 408.1L117.3 408.1L118.0 408.1L118.8 360.3L119.5 408.1L120.3 408.1L121.0 340.8L121.7 359.8L122.5 408.1L123.2 333.9L124.0 337.6L124.7 408.1L125.5 340.0L126.2 408.1L127.0 336.1L127.7 408.1L128.4 408.1L129.2 408.1L129.9 408.1L130.7 358.8L131.4 360.0L132.2 380.5L132.9 408.1L133.7 408.1L134.4 368.2L135.1 408.1L135.9 355.7L136.6 336.0L137.4 354.3L138.1 408.1L138.9 408.1L139.6 408.1L140.3 408.1L141.1 408.1L141.8 408.1L142.6 335.4L143.3 408.1L144.1 338.2L144.8 408.1L145.6 371.4L146.3 408.1L147.0 347.5L147.8 340.1L148.5 356.0L149.3 408.1L150.0 408.1L150.8 331.1L151.5 408.1L152.3 408.1L153.0 332.7L153.7 336.5L154.5 345.7L155.2 408.1L156.0 326.6L156.7 349.6L157.5 345.4L158.2 408.1L158.9 408.1L159.7 408.1L160.4 349.2L161.2 349.7L161.9 408.1L162.7 408.1L163.4 408.1L164.2 408.1L164.9 408.1L165.6 339.0L166.4 335.8L167.1 324.2L167.9 339.3L168.6 408.1L169.4 408.1L170.1 408.1L170.9 408.1L171.6 408.1L172.3 338.0L173.1 343.9L173.8 344.4L174.6 357.5L175.3 342.9L176.1 332.8L176.8 408.1L177.5 408.1L178.3 408.1L179.0 331.4L179.8 334.3L180.5 341.3L181.3 408.1L182.0 360.2L182.8 408.1L183.5 370.0L184.2 408.1L185.0 346.0L185.7 408.1L186.5 339.6L187.2 355.9L188.0 408.1L188.7 408.1L189.5 408.1L190.2 340.3L190.9 408.1L191.7 353.3L192.4 408.1L193.2 408.1L193.9 338.9L194.7 408.1L195.4 342.6L196.1 348.8L196.9 408.1L197.6 408.1L198.4 408.1L199.1 408.1L199.9 408.1L200.6 341.5L201.4 408.1L202.1 349.9L202.8 408.1L203.6 352.9L204.3 408.1L205.1 408.1L205.8 344.5L206.6 376.6L207.3 408.1L208.1 408.1L208.8 359.4L209.5 350.3L210.3 408.1L211.0 408.1L211.8 343.3L212.5 325.1L213.3 408.1L214.0 343.4L214.7 340.7L215.5 408.1L216.2 340.3L217.0 362.0L217.7 326.2L218.5 337.9L219.2 343.4L220.0 333.6L220.7 329.4L221.4 334.4L222.2 329.6L222.9 344.4L223.7 330.6L224.4 324.8L225.2 320.2L225.9 325.5L226.7 327.8L227.4 323.0L228.1 323.1L228.9 320.0L229.6 320.9L230.4 324.1L231.1 320.7L231.9 319.1L232.6 317.0L233.3 315.8L234.1 316.3L234.8 317.6L235.6 313.8L236.3 315.5L237.1 311.8L237.8 311.8L238.6 314.6L239.3 311.5L240.0 312.0L240.8 314.1L241.5 312.8L242.3 310.4L243.0 328.1L243.8 315.6L244.5 319.9L245.3 321.5L246.0 319.2L246.7 336.1L247.5 332.4L248.2 332.5L249.0 326.8L249.7 318.2L250.5 321.5L251.2 314.6L251.9 306.7L252.7 305.2L253.4 302.3L254.2 302.1L254.9 299.2L255.7 297.5L256.4 296.1L257.2 295.9L257.9 295.1L258.6 296.2L259.4 297.2L260.1 298.6L260.9 299.9L261.6 303.1L262.4 303.9L263.1 307.4L263.9 310.9L264.6 314.5L265.3 316.6L266.1 317.7L266.8 318.7L267.6 317.8L268.3 310.5L269.1 303.8L269.8 295.7L270.5 290.0L271.3 285.1L272.0 280.7L272.8 278.0L273.5 276.2L274.3 275.1L275.0 274.8L275.8 274.6L276.5 275.1L277.2 276.2L278.0 277.9L278.7 280.8L279.5 284.5L280.2 290.1L281.0 296.9L281.7 303.7L282.5 312.4L283.2 320.8L283.9 335.2L284.7 327.0L285.4 323.5L286.2 338.1L286.9 323.4L287.7 327.5L288.4 319.0L289.1 320.9L289.9 316.8L290.6 305.4L291.4 292.7L292.1 279.5L292.9 267.6L293.6 257.6L294.4 249.6L295.1 243.6L295.8 239.5L296.6 237.2L297.3 236.5L298.1 237.2L298.8 239.5L299.6 243.6L300.3 249.6L301.1 257.4L301.8 267.1L302.5 278.2L303.3 288.7L304.0 295.8L304.8 298.8L305.5 297.7L306.3 295.4L307.0 288.8L307.7 278.2L308.5 264.9L309.2 251.5L310.0 239.0L310.7 227.8L311.5 218.0L312.2 209.7L313.0 202.7L313.7 197.0L314.4 192.6L315.2 189.4L315.9 187.3L316.7 186.1L317.4 185.9L318.2 186.1L318.9 187.3L319.7 189.4L320.4 192.6L321.1 197.0L321.9 202.7L322.6 209.7L323.4 218.0L324.1 227.8L324.9 238.8L325.6 251.0L326.3 263.2L327.1 270.7L327.8 267.5L328.6 257.5L329.3 246.2L330.1 235.4L330.8 225.4L331.6 216.5L332.3 208.6L333.0 201.7L333.8 195.9L334.5 191.2L335.3 187.6L336.0 185.0L336.8 183.4L337.5 182.9L338.3 183.4L339.0 185.0L339.7 187.6L340.5 191.2L341.2 195.9L342.0 201.7L342.7 208.6L343.5 216.5L344.2 225.4L344.9 235.4L345.7 246.2L346.4 257.2L347.2 264.0L347.9 258.1L348.7 245.4L349.4 233.1L350.2 222.7L350.9 214.2L351.6 207.6L352.4 202.7L353.1 199.5L353.9 197.6L354.6 196.9L355.4 196.9L356.1 197.6L356.9 199.5L357.6 202.7L358.3 207.6L359.1 214.2L359.8 222.7L360.6 233.2L361.3 245.8L362.1 260.3L362.8 276.1L363.5 290.4L364.3 298.3L365.0 296.7L365.8 288.8L366.5 277.0L367.3 265.3L368.0 255.1L368.8 246.8L369.5 240.5L370.2 236.5L371.0 235.0L371.7 236.5L372.5 240.6L373.2 246.8L374.0 255.3L374.7 265.6L375.5 277.9L376.2 291.7L376.9 303.4L377.7 315.1L378.4 319.9L379.2 321.7L379.9 318.6L380.7 339.4L381.4 333.7L382.1 408.1L382.9 408.1L383.6 333.0L384.4 332.6L385.1 346.2L385.9 356.7L386.6 360.7L387.4 408.1L388.1 332.1L388.8 343.0L389.6 346.4L390.3 350.2L391.1 337.0L391.8 346.4L392.6 341.4L393.3 408.1L394.1 346.3L394.8 327.5L395.5 408.1L396.3 408.1L397.0 339.1L397.8 338.2L398.5 343.7L399.3 408.1L400.0 346.5L400.7 408.1L401.5 408.1L402.2 345.3L403.0 408.1L403.7 340.3L404.5 322.8L405.2 340.8L406.0 341.8L406.7 408.1L407.4 408.1L408.2 408.1L408.9 408.1L409.7 408.1L410.4 408.1L411.2 408.1L411.9 408.1L412.7 408.1L413.4 408.1L414.1 347.8L414.9 373.9L415.6 337.3L416.4 337.0L417.1 408.1L417.9 342.8L418.6 408.1L419.3 327.0L420.1 335.3L420.8 408.1L421.6 408.1L422.3 350.1L423.1 408.1L423.8 408.1L424.6 341.3L425.3 370.9L426.0 408.1L426.8 338.3L427.5 408.1L428.3 353.8L429.0 408.1L429.8 408.1L430.5 347.5L431.3 408.1L432.0 329.3L432.7 408.1L433.5 328.7L434.2 408.1L435.0 344.0L435.7 408.1L436.5 408.1L437.2 361.2L437.9 342.6L438.7 408.1L439.4 335.4L440.2 408.1L440.9 363.7L441.7 350.1L442.4 344.3L443.2 408.1L443.9 331.4L444.6 345.0L445.4 408.1L446.1 408.1L446.9 408.1L447.6 408.1L448.4 345.4L449.1 408.1L449.9 408.1L450.6 408.1L451.3 331.8L452.1 408.1L452.8 408.1L453.6 333.7L454.3 347.5L455.1 377.7L455.8 408.1L456.5 408.1L457.3 408.1L458.0 408.1L458.8 408.1L459.5 350.9L460.3 345.3L461.0 356.9L461.8 357.1L462.5 408.1L463.2 408.1L464.0 408.1L464.7 408.1L465.5 408.1L466.2 408.1L467.0 408.1L467.7 408.1L468.5 408.1L469.2 365.4L469.9 408.1L470.7 346.6L471.4 408.1L472.2 408.1L472.9 378.8L473.7 329.5L474.4 408.1L475.1 335.6L475.9 333.5L476.6 332.4L477.4 408.1L478.1 328.6L478.9 365.3L479.6 408.1L480.4 408.1L481.1 344.1L481.8 375.9L482.6 408.1L483.3 334.4L484.1 408.1L484.8 408.1L485.6 340.6L486.3 342.1L487.1 336.4L487.8 408.1L488.5 336.6L489.3 347.0L490.0 330.3L490.8 408.1L491.5 357.2L492.3 408.1L493.0 408.1L493.7 408.1L494.5 336.1L495.2 408.1L496.0 408.1L496.7 339.4L497.5 337.7L498.2 337.8L499.0 408.1L499.7 408.1L500.4 337.2L501.2 408.1L501.9 408.1L502.7 340.0L503.4 331.9L504.2 408.1L504.9 408.1L505.7 408.1L506.4 408.1L507.1 408.1L507.9 343.8L508.6 408.1L509.4 408.1L510.1 361.7L510.9 408.1L511.6 408.1L512.3 408.1L513.1 324.9L513.8 340.2L514.6 408.1L515.3 408.1L516.1 408.1L516.8 408.1L517.6 408.1L518.3 408.1L519.0 339.2L519.8 408.1L520.5 408.1L521.3 408.1L522.0 408.1L522.8 408.1L523.5 408.1L524.3 336.0L525.0 408.1L525.7 336.9L526.5 355.1L527.2 408.1L528.0 408.1L528.7 408.1L529.5 341.5L530.2 333.3L530.9 357.9L531.7 341.1L532.4 408.1L533.2 408.1L533.9 408.1L534.7 337.9L535.4 351.4L536.2 408.1L536.9 408.1L537.6 345.1L538.4 352.1L539.1 408.1L539.9 330.7L540.6 355.1L541.4 396.3L542.1 332.6L542.9 337.3L543.6 408.1L544.3 345.6L545.1 408.1L545.8 408.1L546.6 408.1L547.3 335.0L548.1 408.1L548.8 342.5L549.5 408.1L550.3 408.1L551.0 408.1L551.8 354.6L552.5 343.9L553.3 330.2L554.0 350.8L554.8 339.2L555.5 408.1L556.2 341.9L557.0 361.7L557.7 408.1L558.5 408.1L559.2 408.1L560.0 358.9L560.7 349.4L561.5 408.1L562.2 408.1L562.9 341.3L563.7 408.1L564.4 408.1L565.2 331.9L565.9 408.1L566.7 408.1L567.4 342.4L568.1 408.1L568.9 325.3L569.6 408.1L570.4 332.9L571.1 331.9L571.9 338.7L572.6 408.1L573.4 350.9L574.1 408.1L574.8 340.3L575.6 408.1L576.3 408.1L577.1 337.7L577.8 408.1L578.6 408.1L579.3 360.9L580.1 408.1L580.8 335.6L581.5 351.5L582.3 408.1L583.0 408.1L583.8 408.1L584.5 408.1L585.3 370.6L586.0 408.1L586.7 338.1L587.5 408.1L588.2 337.8L589.0 408.1L589.7 339.6L590.5 408.1L591.2 408.1L592.0 408.1L592.7 344.7L593.4 338.4L594.2 327.9L594.9 334.3L595.7 355.5L596.4 408.1L597.2 349.8L597.9 408.1L598.7 332.7L599.4 338.3L600.1 408.1L600.9 408.1L601.6 333.6L602.4 352.8L603.1 408.1L603.9 335.4L604.6 408.1L605.3 408.1L606.1 408.1L606.8 408.1L607.6 339.5L608.3 408.1L609.1 408.1L609.8 408.1L610.6 341.7L611.3 408.1L612.0 391.3L612.8 408.1L613.5 408.1L614.3 408.1L615.0 352.8L615.8 350.5L616.5 408.1L617.3 328.4L618.0 345.8L618.7 344.3L619.5 362.7L620.2 408.1L621.0 338.0L621.7 336.4L622.5 408.1L623.2 336.9L623.9 346.2L624.7 338.1L625.4 347.4L626.2 408.1L626.9 408.1L627.7 329.9L628.4 355.3L629.2 408.1L629.9 351.2L630.6 408.1L631.4 408.1L632.1 408.1L632.9 408.1L633.6 354.4L634.4 408.1L635.1 408.1L635.9 353.8L636.6 344.2L637.3 408.1L638.1 408.1L638.8 408.1L639.6 408.1L640.3 408.1L641.1 408.1L641.8 408.1L642.5 408.1L643.3 408.1L644.0 328.6L644.8 408.1L645.5 408.1L646.3 354.2L647.0 344.2L647.8 347.5L648.5 408.1" stroke="#9467bd"/>
<path d="M90.5 337.6L91.2 408.1L92.0 408.1L92.7 408.1L93.5 408.1L94.2 341.9L95.0 343.7L95.7 408.1L96.5 338.5L97.2 369.9L97.9 339.0L98.7 408.1L99.4 408.1L100.2 340.9L100.9 408.1L101.7 408.1L102.4 408.1L103.1 408.1L103.9 408.1L104.6 333.3L105.4 408.1L106.1 339.2L106.9 326.9L107.6 385.8L108.4 408.1L109.1 341.7L109.8 329.8L110.6 408.1L111.3 368.9L112.1 408.1L112.8 345.1L113.6 361.3L114.3 343.0L115.1 408.1L115.8 376.4L116.5 408.1L117.3 408.1L118.0 408.1L118.8 408.1L119.5 408.1L120.3 331.8L121.0 408.1L121.7 408.1L122.5 336.4L123.2 408.1L124.0 346.3L124.7 408.1L125.5 355.4L126.2 360.3L127.0 408.1L127.7 378.7L128.4 328.5L129.2 408.1L129.9 372.6L130.7 348.3L131.4 408.1L132.2 408.1L132.9 327.7L133.7 408.1L134.4 328.2L135.1 345.6L135.9 370.7L136.6 347.2L137.4 343.4L138.1 335.5L138.9 348.3L139.6 362.5L140.3 359.9L141.1 333.7L141.8 340.2L142.6 408.1L143.3 408.1L144.1 351.8L144.8 408.1L145.6 408.1L146.3 408.1L147.0 408.1L147.8 348.7L148.5 337.7L149.3 397.9L150.0 328.2L150.8 408.1L151.5 322.7L152.3 337.6L153.0 346.6L153.7 408.1L154.5 408.1L155.2 408.1L156.0 359.8L156.7 329.2L157.5 408.1L158.2 329.3L158.9 408.1L159.7 341.8L160.4 408.1L161.2 363.0L161.9 408.1L162.7 342.5L163.4 368.4L164.2 408.1L164.9 338.3L165.6 342.3L166.4 344.2L167.1 337.5L167.9 336.4L168.6 408.1L169.4 408.1L170.1 408.1L170.9 333.7L171.6 342.0L172.3 367.0L173.1 408.1L173.8 382.1L174.6 385.2L175.3 408.1L176.1 408.1L176.8 327.7L177.5 356.6L178.3 408.1L179.0 408.1L179.8 408.1L180.5 341.8L181.3 341.2L182.0 408.1L182.8 375.7L183.5 408.1L184.2 408.1L185.0 334.2L185.7 350.3L186.5 325.9L187.2 408.1L188.0 408.1L188.7 339.2L189.5 408.1L190.2 408.1L190.9 408.1L191.7 367.1L192.4 351.4L193.2 408.1L193.9 337.6L194.7 337.7L195.4 352.2L196.1 384.1L196.9 408.1L197.6 345.3L198.4 338.7L199.1 373.7L199.9 347.9L200.6 408.1L201.4 408.1L202.1 408.1L202.8 341.0L203.6 348.0L204.3 331.6L205.1 374.5L205.8 339.4L206.6 334.0L207.3 337.6L208.1 408.1L208.8 408.1L209.5 361.4L210.3 408.1L211.0 345.5L211.8 336.1L212.5 408.1L213.3 327.5L214.0 398.3L214.7 358.1L215.5 353.2L216.2 408.1L217.0 334.5L217.7 336.8L218.5 323.9L219.2 328.5L220.0 327.9L220.7 332.3L221.4 348.5L222.2 329.8L222.9 336.3L223.7 323.8L224.4 329.2L225.2 321.2L225.9 325.0L226.7 324.4L227.4 327.1L228.1 326.3L228.9 323.0L229.6 320.6L230.4 325.4L231.1 318.7L231.9 312.3L232.6 316.6L233.3 315.4L234.1 314.5L234.8 314.5L235.6 309.8L236.3 310.6L237.1 310.0L237.8 308.2L238.6 307.7L239.3 312.2L240.0 310.4L240.8 311.9L241.5 313.5L242.3 313.8L243.0 317.5L243.8 312.5L244.5 317.7L245.3 320.5L246.0 316.5L246.7 318.3L247.5 320.0L248.2 319.0L249.0 311.3L249.7 312.9L250.5 311.7L251.2 310.3L251.9 305.7L252.7 303.2L253.4 299.6L254.2 297.3L254.9 296.8L255.7 294.2L256.4 292.9L257.2 292.5L257.9 293.0L258.6 292.6L259.4 294.6L260.1 296.3L260.9 298.2L261.6 299.7L262.4 301.3L263.1 303.8L263.9 307.9L264.6 314.1L265.3 317.1L266.1 322.8L266.8 324.2L267.6 354.2L268.3 329.5L269.1 326.0L269.8 326.2L270.5 315.5L271.3 308.2L272.0 299.6L272.8 292.0L273.5 285.9L274.3 281.4L275.0 278.1L275.8 275.7L276.5 274.3L277.2 273.6L278.0 273.5L278.7 273.7L279.5 274.2L280.2 275.7L281.0 278.1L281.7 281.5L282.5 285.8L283.2 291.4L283.9 298.2L284.7 305.8L285.4 311.3L286.2 319.1L286.9 322.6L287.7 318.9L288.4 318.0L289.1 318.9L289.9 321.7L290.6 317.9L291.4 314.1L292.1 310.3L292.9 299.8L293.6 286.9L294.4 272.4L295.1 259.6L295.8 248.5L296.6 239.5L297.3 232.5L298.1 227.4L298.8 224.2L299.6 222.7L300.3 222.7L301.1 224.2L301.8 227.4L302.5 232.4L303.3 239.4L304.0 248.4L304.8 259.1L305.5 271.0L306.3 281.5L307.0 284.3L307.7 276.2L308.5 263.3L309.2 250.0L310.0 237.5L310.7 226.3L311.5 216.5L312.2 208.2L313.0 201.2L313.7 195.5L314.4 191.1L315.2 187.9L315.9 185.8L316.7 184.7L317.4 184.4L318.2 184.7L318.9 185.8L319.7 187.9L320.4 191.1L321.1 195.5L321.9 201.2L322.6 208.2L323.4 216.5L324.1 226.3L324.9 237.3L325.6 249.4L326.3 260.8L327.1 265.4L327.8 259.1L328.6 248.2L329.3 237.1L330.1 226.7L330.8 217.3L331.6 208.8L332.3 201.5L333.0 195.1L333.8 189.9L334.5 185.7L335.3 182.6L336.0 180.5L336.8 179.5L337.5 179.5L338.3 180.5L339.0 182.6L339.7 185.7L340.5 189.9L341.2 195.1L342.0 201.5L342.7 208.8L343.5 217.3L344.2 226.7L344.9 237.1L345.7 247.8L346.4 255.1L347.2 250.2L347.9 237.7L348.7 225.4L349.4 215.0L350.2 206.5L350.9 199.9L351.6 195.0L352.4 191.8L353.1 189.9L353.9 189.2L354.6 189.2L355.4 189.9L356.1 191.8L356.9 195.0L357.6 199.9L358.3 206.5L359.1 215.0L359.8 225.5L360.6 238.1L361.3 252.5L362.1 268.1L362.8 281.6L363.5 288.3L364.3 287.5L365.0 278.6L365.8 265.0L366.5 250.6L367.3 237.4L368.0 225.9L368.8 216.5L369.5 209.1L370.2 203.9L371.0 201.1L371.7 201.1L372.5 203.9L373.2 209.1L374.0 216.5L374.7 225.9L375.5 237.4L376.2 250.8L376.9 265.7L377.7 281.1L378.4 294.2L379.2 301.8L379.9 304.2L380.7 340.6L381.4 338.2L382.1 408.1L382.9 334.8L383.6 408.1L384.4 408.1L385.1 408.1L385.9 331.2L386.6 408.1L387.4 365.6L388.1 408.1L388.8 408.1L389.6 408.1L390.3 342.9L391.1 408.1L391.8 338.4L392.6 408.1L393.3 401.7L394.1 408.1L394.8 351.4L395.5 329.3L396.3 350.7L397.0 358.7L397.8 408.1L398.5 408.1L399.3 332.7L400.0 408.1L400.7 408.1L401.5 408.1L402.2 408.1L403.0 329.0L403.7 408.1L404.5 350.7L405.2 342.0L406.0 408.1L406.7 408.1L407.4 348.4L408.2 331.3L408.9 408.1L409.7 408.1L410.4 338.0L411.2 332.2L411.9 408.1L412.7 408.1L413.4 332.8L414.1 408.1L414.9 336.1L415.6 408.1L416.4 408.1L417.1 408.1L417.9 332.6L418.6 333.0L419.3 408.1L420.1 408.1L420.8 330.2L421.6 408.1L422.3 408.1L423.1 407.3L423.8 408.1L424.6 408.1L425.3 408.1L426.0 408.1L426.8 408.1L427.5 351.7L428.3 408.1L429.0 408.1L429.8 408.1L430.5 334.2L431.3 350.3L432.0 408.1L432.7 345.6L433.5 349.2L434.2 336.5L435.0 346.4L435.7 330.1L436.5 333.8L437.2 408.1L437.9 408.1L438.7 339.2L439.4 346.1L440.2 408.1L440.9 408.1L441.7 408.1L442.4 351.2L443.2 341.0L443.9 340.4L444.6 408.1L445.4 337.1L446.1 408.1L446.9 349.8L447.6 348.9L448.4 408.1L449.1 408.1L449.9 408.1L450.6 408.1L451.3 408.1L452.1 348.2L452.8 373.5L453.6 338.8L454.3 350.9L455.1 408.1L455.8 351.3L456.5 408.1L457.3 344.0L458.0 352.5L458.8 408.1L459.5 408.1L460.3 374.9L461.0 408.1L461.8 339.0L462.5 330.7L463.2 408.1L464.0 408.1L464.7 408.1L465.5 408.1L466.2 408.1L467.0 408.1L467.7 353.6L468.5 344.4L469.2 408.1L469.9 408.1L470.7 408.1L471.4 341.1L472.2 408.1L472.9 408.1L473.7 329.0L474.4 375.8L475.1 347.4L475.9 408.1L476.6 408.1L477.4 408.1L478.1 349.2L478.9 408.1L479.6 351.4L480.4 334.8L481.1 336.7L481.8 408.1L482.6 408.1L483.3 408.1L484.1 336.7L484.8 344.0L485.6 342.1L486.3 408.1L487.1 408.1L487.8 370.6L488.5 367.1L489.3 408.1L490.0 362.7L490.8 343.3L491.5 356.6L492.3 408.1L493.0 408.1L493.7 408.1L494.5 360.8L495.2 408.1L496.0 408.1L496.7 408.1L497.5 341.9L498.2 408.1L499.0 364.6L499.7 408.1L500.4 408.1L501.2 360.9L501.9 408.1L502.7 408.1L503.4 408.1L504.2 335.2L504.9 358.9L505.7 332.7L506.4 408.1L507.1 408.1L507.9 408.1L508.6 408.1L509.4 333.0L510.1 352.0L510.9 341.6L511.6 342.1L512.3 408.1L513.1 408.1L513.8 365.0L514.6 342.7L515.3 347.7L516.1 346.7L516.8 361.7L517.6 408.1L518.3 408.1L519.0 408.1L519.8 337.5L520.5 408.1L521.3 408.1L522.0 326.4L522.8 408.1L523.5 408.1L524.3 408.1L525.0 334.3L525.7 408.1L526.5 343.9L527.2 367.2L528.0 408.1L528.7 322.8L529.5 371.6L530.2 408.1L530.9 408.1L531.7 350.0L532.4 349.1L533.2 340.9L533.9 362.8L534.7 408.1L535.4 345.7L536.2 408.1L536.9 408.1L537.6 408.1L538.4 408.1L539.1 408.1L539.9 408.1L540.6 408.1L541.4 376.0L542.1 364.4L542.9 408.1L543.6 408.1L544.3 408.1L545.1 338.8L545.8 408.1L546.6 408.1L547.3 408.1L548.1 408.1L548.8 339.7L549.5 408.1L550.3 363.1L551.0 408.1L551.8 329.1L552.5 338.8L553.3 336.1L554.0 408.1L554.8 408.1L555.5 336.6L556.2 408.1L557.0 408.1L557.7 351.7L558.5 408.1L559.2 340.9L560.0 389.1L560.7 347.1L561.5 408.1L562.2 346.2L562.9 408.1L563.7 338.2L564.4 336.0L565.2 338.8L565.9 346.1L566.7 343.5L567.4 408.1L568.1 339.9L568.9 408.1L569.6 367.9L570.4 408.1L571.1 408.1L571.9 408.1L572.6 343.0L573.4 333.1L574.1 408.1L574.8 408.1L575.6 332.8L576.3 408.1L577.1 328.2L577.8 376.0L578.6 408.1L579.3 337.8L580.1 330.8L580.8 408.1L581.5 331.9L582.3 408.1L583.0 332.5L583.8 408.1L584.5 408.1L585.3 346.5L586.0 338.6L586.7 328.1L587.5 330.6L588.2 342.3L589.0 408.1L589.7 408.1L590.5 408.1L591.2 408.1L592.0 408.1L592.7 408.1L593.4 359.8L594.2 408.1L594.9 325.5L595.7 341.2L596.4 408.1L597.2 345.0L597.9 408.1L598.7 408.1L599.4 408.1L600.1 332.9L600.9 344.3L601.6 408.1L602.4 408.1L603.1 338.3L603.9 346.6L604.6 350.0L605.3 408.1L606.1 408.1L606.8 367.9L607.6 338.7L608.3 408.1L609.1 408.1L609.8 335.9L610.6 408.1L611.3 336.6L612.0 355.8L612.8 339.2L613.5 330.4L614.3 342.4L615.0 340.9L615.8 408.1L616.5 408.1L617.3 343.3L618.0 332.1L618.7 333.3L619.5 326.8L620.2 352.6L621.0 358.1L621.7 337.5L622.5 388.7L623.2 408.1L623.9 408.1L624.7 337.7L625.4 408.1L626.2 346.2L626.9 408.1L627.7 336.4L628.4 408.1L629.2 339.8L629.9 408.1L630.6 408.1L631.4 335.5L632.1 408.1L632.9 372.4L633.6 408.1L634.4 408.1L635.1 352.8L635.9 348.4L636.6 408.1L637.3 344.8L638.1 408.1L638.8 408.1L639.6 401.7L640.3 408.1L641.1 326.9L641.8 408.1L642.5 341.5L643.3 337.7L644.0 408.1L644.8 408.1L645.5 345.0L646.3 408.1L647.0 349.9L647.8 335.9L648.5 408.1" stroke="#1f77b4"/>
<path d="M90.5 408.1L91.2 408.1L92.0 358.0L92.7 408.1L93.5 352.5L94.2 356.4L95.0 408.1L95.7 330.6L96.5 336.6L97.2 339.7L97.9 408.1L98.7 408.1L99.4 408.1L100.2 408.1L100.9 408.1L101.7 348.3L102.4 356.6L103.1 350.6L103.9 408.1L104.6 334.3L105.4 359.1L106.1 408.1L106.9 408.1L107.6 408.1L108.4 338.1L109.1 408.1L109.8 408.1L110.6 408.1L111.3 342.8L112.1 408.1L112.8 408.1L113.6 408.1L114.3 345.1L115.1 408.1L115.8 408.1L116.5 343.7L117.3 408.1L118.0 350.9L118.8 350.3L119.5 335.2L120.3 337.0L121.0 408.1L121.7 408.1L122.5 408.1L123.2 330.9L124.0 348.1L124.7 333.3L125.5 408.1L126.2 408.1L127.0 332.1L127.7 368.2L128.4 363.5L129.2 374.8L129.9 343.3L130.7 345.7L131.4 408.1L132.2 336.5L132.9 408.1L133.7 408.1L134.4 330.6L135.1 338.7L135.9 408.1L136.6 408.1L137.4 361.1L138.1 345.6L138.9 408.1L139.6 408.1L140.3 408.1L141.1 408.1L141.8 357.4L142.6 340.2L143.3 337.3L144.1 408.1L144.8 356.2L145.6 345.2L146.3 408.1L147.0 408.1L147.8 327.9L148.5 358.0L149.3 339.2L150.0 408.1L150.8 378.5L151.5 408.1L152.3 408.1L153.0 335.3L153.7 328.1L154.5 335.3L155.2 342.4L156.0 375.4L156.7 408.1L157.5 408.1L158.2 343.9L158.9 408.1L159.7 338.5L160.4 408.1L161.2 408.1L161.9 408.1L162.7 408.1L163.4 408.1L164.2 336.0L164.9 408.1L165.6 357.2L166.4 335.7L167.1 334.6L167.9 408.1L168.6 333.9L169.4 349.9L170.1 408.1L170.9 348.1L171.6 408.1L172.3 408.1L173.1 408.1L173.8 344.0L174.6 408.1L175.3 408.1L176.1 338.0L176.8 333.2L177.5 341.0L178.3 334.5L179.0 408.1L179.8 408.1L180.5 352.3L181.3 408.1L182.0 408.1L182.8 331.1L183.5 408.1L184.2 408.1L185.0 346.9L185.7 329.8L186.5 370.0L187.2 334.9L188.0 408.1L188.7 408.1L189.5 408.1L190.2 408.1L190.9 329.8L191.7 408.1L192.4 331.3L193.2 408.1L193.9 408.1L194.7 339.9L195.4 343.5L196.1 353.9L196.9 408.1L197.6 350.7L198.4 408.1L199.1 325.5L199.9 408.1L200.6 359.1L201.4 408.1L202.1 408.1L202.8 408.1L203.6 337.8L204.3 408.1L205.1 345.0L205.8 408.1L206.6 408.1L207.3 334.3L208.1 408.1L208.8 408.1L209.5 348.4L210.3 408.1L211.0 408.1L211.8 337.4L212.5 408.1L213.3 336.5L214.0 408.1L214.7 329.4L215.5 329.6L216.2 357.4L217.0 343.3L217.7 357.7L218.5 333.0L219.2 325.5L220.0 363.0L220.7 325.1L221.4 346.0L222.2 336.9L222.9 360.5L223.7 319.5L224.4 328.7L225.2 327.6L225.9 334.8L226.7 323.4L227.4 408.1L228.1 327.3L228.9 317.8L229.6 326.1L230.4 322.2L231.1 318.2L231.9 320.8L232.6 316.4L233.3 312.8L234.1 313.1L234.8 311.7L235.6 311.8L236.3 310.3L237.1 310.3L237.8 308.6L238.6 309.6L239.3 311.3L240.0 315.7L240.8 311.7L241.5 312.9L242.3 320.2L243.0 335.0L243.8 328.0L244.5 316.2L245.3 334.7L246.0 328.1L246.7 322.3L247.5 316.1L248.2 320.9L249.0 318.5L249.7 317.0L250.5 307.2L251.2 305.8L251.9 305.1L252.7 303.5L253.4 300.2L254.2 297.1L254.9 296.0L255.7 293.8L256.4 293.0L257.2 292.4L257.9 292.3L258.6 292.9L259.4 294.6L260.1 295.7L260.9 296.0L261.6 300.4L262.4 302.4L263.1 303.6L263.9 308.0L264.6 312.6L265.3 318.1L266.1 316.5L266.8 318.0L267.6 319.1L268.3 327.3L269.1 323.2L269.8 338.6L270.5 322.6L271.3 316.2L272.0 305.8L272.8 296.9L273.5 289.3L274.3 283.1L275.0 277.8L275.8 273.9L276.5 271.1L277.2 269.2L278.0 268.2L278.7 267.8L279.5 267.8L280.2 268.1L281.0 269.1L281.7 270.9L282.5 273.6L283.2 277.5L283.9 282.2L284.7 288.1L285.4 294.4L286.2 300.2L286.9 304.2L287.7 306.9L288.4 305.4L289.1 299.8L289.9 290.8L290.6 279.2L291.4 266.8L292.1 254.8L292.9 243.7L293.6 233.7L294.4 224.9L295.1 217.2L295.8 210.7L296.6 205.3L297.3 201.0L298.1 197.8L298.8 195.6L299.6 194.4L300.3 194.0L301.1 194.4L301.8 195.6L302.5 197.8L303.3 201.0L304.0 205.3L304.8 210.7L305.5 217.2L306.3 224.9L307.0 233.7L307.7 243.6L308.5 254.4L309.2 264.4L310.0 267.4L310.7 259.3L311.5 247.8L312.2 236.8L313.0 227.0L313.7 218.7L314.4 211.7L315.2 206.0L315.9 201.6L316.7 198.4L317.4 196.3L318.2 195.2L318.9 194.9L319.7 195.2L320.4 196.3L321.1 198.4L321.9 201.6L322.6 206.0L323.4 211.7L324.1 218.7L324.9 227.0L325.6 236.7L326.3 247.7L327.1 259.3L327.8 268.6L328.6 268.6L329.3 259.6L330.1 248.2L330.8 237.2L331.6 227.0L332.3 217.7L333.0 209.6L333.8 202.4L334.5 196.4L335.3 191.4L336.0 187.5L336.8 184.6L337.5 182.8L338.3 182.0L339.0 182.3L339.7 183.6L340.5 185.9L341.2 189.3L342.0 193.8L342.7 199.3L343.5 205.9L344.2 213.5L344.9 222.2L345.7 231.9L346.4 242.4L347.2 252.0L347.9 255.1L348.7 249.3L349.4 240.9L350.2 233.6L350.9 228.0L351.6 224.0L352.4 221.5L353.1 220.2L353.9 219.9L354.6 220.2L355.4 221.5L356.1 224.0L356.9 228.0L357.6 233.7L358.3 241.2L359.1 250.5L359.8 261.5L360.6 273.4L361.3 284.1L362.1 289.8L362.8 291.4L363.5 290.6L364.3 287.8L365.0 279.9L365.8 266.1L366.5 250.4L367.3 235.4L368.0 222.0L368.8 210.5L369.5 201.1L370.2 193.7L371.0 188.5L371.7 185.7L372.5 185.7L373.2 188.5L374.0 193.7L374.7 201.1L375.5 210.5L376.2 222.0L376.9 235.4L377.7 250.5L378.4 266.3L379.2 280.3L379.9 289.4L380.7 308.4L381.4 331.7L382.1 336.4L382.9 336.3L383.6 408.1L384.4 375.2L385.1 408.1L385.9 352.9L386.6 339.6L387.4 408.1L388.1 336.1L388.8 408.1L389.6 408.1L390.3 408.1L391.1 408.1L391.8 388.9L392.6 408.1L393.3 408.1L394.1 341.8L394.8 408.1L395.5 408.1L396.3 408.1L397.0 328.0L397.8 408.1L398.5 408.1L399.3 332.7L400.0 347.0L400.7 408.1L401.5 408.1L402.2 339.5L403.0 335.2L403.7 408.1L404.5 341.1L405.2 355.3L406.0 336.3L406.7 333.4L407.4 408.1L408.2 408.1L408.9 349.5L409.7 330.2L410.4 342.5L411.2 356.5L411.9 326.3L412.7 408.1L413.4 338.9L414.1 408.1L414.9 376.3L415.6 368.6L416.4 332.3L417.1 408.1L417.9 408.1L418.6 408.1L419.3 346.9L420.1 408.1L420.8 348.7L421.6 408.1L422.3 408.1L423.1 337.1L423.8 408.1L424.6 343.6L425.3 345.8L426.0 408.1L426.8 408.1L427.5 337.8L428.3 360.4L429.0 337.8L429.8 408.1L430.5 408.1L431.3 408.1L432.0 408.1L432.7 337.1L433.5 344.9L434.2 408.1L435.0 363.7L435.7 341.1L436.5 408.1L437.2 349.5L437.9 362.9L438.7 408.1L439.4 408.1L440.2 333.7L440.9 408.1L441.7 408.1L442.4 408.1L443.2 408.1L443.9 336.1L444.6 408.1L445.4 408.1L446.1 408.1L446.9 408.1L447.6 408.1L448.4 408.1L449.1 340.6L449.9 342.0L450.6 408.1L451.3 339.7L452.1 347.6L452.8 408.1L453.6 341.6L454.3 408.1L455.1 408.1L455.8 408.1L456.5 408.1L457.3 339.3L458.0 408.1L458.8 408.1L459.5 408.1L460.3 358.6L461.0 408.1L461.8 339.5L462.5 408.1L463.2 408.1L464.0 408.1L464.7 380.8L465.5 408.1L466.2 354.3L467.0 330.0L467.7 408.1L468.5 380.3L469.2 333.8L469.9 408.1L470.7 408.1L471.4 408.1L472.2 349.9L472.9 346.5L473.7 408.1L474.4 384.3L475.1 334.7L475.9 339.7L476.6 408.1L477.4 408.1L478.1 369.5L478.9 342.2L479.6 408.1L480.4 408.1L481.1 408.1L481.8 408.1L482.6 408.1L483.3 408.1L484.1 348.2L484.8 408.1L485.6 408.1L486.3 408.1L487.1 408.1L487.8 342.8L488.5 408.1L489.3 349.1L490.0 408.1L490.8 373.5L491.5 408.1L492.3 408.1L493.0 408.1L493.7 345.4L494.5 362.9L495.2 408.1L496.0 340.5L496.7 362.0L497.5 346.6L498.2 341.8L499.0 408.1L499.7 408.1L500.4 353.8L501.2 408.1L501.9 351.4L502.7 336.8L503.4 340.3L504.2 408.1L504.9 408.1L505.7 408.1L506.4 408.1L507.1 336.9L507.9 408.1L508.6 408.1L509.4 342.4L510.1 408.1L510.9 408.1L511.6 331.0L512.3 332.9L513.1 344.6L513.8 357.0L514.6 408.1L515.3 346.3L516.1 395.9L516.8 360.2L517.6 408.1L518.3 408.1L519.0 408.1L519.8 354.6L520.5 333.5L521.3 352.5L522.0 408.1L522.8 408.1L523.5 408.1L524.3 408.1L525.0 346.3L525.7 351.0L526.5 408.1L527.2 357.2L528.0 408.1L528.7 408.1L529.5 408.1L530.2 408.1L530.9 333.6L531.7 408.1L532.4 335.3L533.2 334.5L533.9 408.1L534.7 408.1L535.4 408.1L536.2 408.1L536.9 344.0L537.6 408.1L538.4 338.3L539.1 336.0L539.9 353.4L540.6 354.2L541.4 408.1L542.1 353.3L542.9 408.1L543.6 351.0L544.3 361.7L545.1 408.1L545.8 328.1L546.6 408.1L547.3 408.1L548.1 356.8L548.8 408.1L549.5 408.1L550.3 408.1L551.0 408.1L551.8 408.1L552.5 354.6L553.3 337.0L554.0 341.3L554.8 336.0L555.5 345.7L556.2 408.1L557.0 336.9L557.7 408.1L558.5 408.1L559.2 332.6L560.0 341.6L560.7 360.8L561.5 342.3L562.2 340.1L562.9 408.1L563.7 408.1L564.4 408.1L565.2 372.4L565.9 408.1L566.7 334.2L567.4 347.5L568.1 408.1L568.9 408.1L569.6 408.1L570.4 408.1L571.1 346.8L571.9 357.8L572.6 408.1L573.4 408.1L574.1 347.8L574.8 355.5L575.6 336.4L576.3 408.1L577.1 347.4L577.8 408.1L578.6 363.1L579.3 351.2L580.1 343.6L580.8 408.1L581.5 364.1L582.3 408.1L583.0 408.1L583.8 346.6L584.5 408.1L585.3 408.1L586.0 408.1L586.7 408.1L587.5 332.4L588.2 337.8L589.0 341.5L589.7 408.1L590.5 408.1L591.2 348.8L592.0 351.7L592.7 350.8L593.4 408.1L594.2 330.8L594.9 333.1L595.7 408.1L596.4 408.1L597.2 328.7L597.9 408.1L598.7 335.9L599.4 329.7L600.1 408.1L600.9 356.4L601.6 408.1L602.4 347.7L603.1 354.8L603.9 329.4L604.6 345.7L605.3 408.1L606.1 336.8L606.8 408.1L607.6 408.1L608.3 327.6L609.1 408.1L609.8 408.1L610.6 408.1L611.3 408.1L612.0 408.1L612.8 337.6L613.5 408.1L614.3 408.1L615.0 408.1L615.8 408.1L616.5 408.1L617.3 367.0L618.0 326.7L618.7 342.6L619.5 342.4L620.2 408.1L621.0 408.1L621.7 408.1L622.5 342.0L623.2 408.1L623.9 408.1L624.7 408.1L625.4 408.1L626.2 408.1L626.9 346.0L627.7 408.1L628.4 408.1L629.2 408.1L629.9 408.1L630.6 358.1L631.4 338.2L632.1 359.0L632.9 363.1L633.6 408.1L634.4 340.5L635.1 408.1L635.9 352.8L636.6 408.1L637.3 408.1L638.1 408.1L638.8 408.1L639.6 345.9L640.3 337.1L641.1 408.1L641.8 408.1L642.5 329.3L643.3 340.3L644.0 333.4L644.8 378.2L645.5 408.1L646.3 408.1L647.0 343.1L647.8 339.0L648.5 408.1" stroke="#17becf"/>
<path d="M90.5 408.1L91.2 358.2L92.0 408.1L92.7 408.1L93.5 331.9L94.2 327.9L95.0 408.1L95.7 330.2L96.5 408.1L97.2 408.1L97.9 408.1L98.7 339.0L99.4 408.1L100.2 327.0L100.9 354.3L101.7 363.9L102.4 408.1L103.1 332.9L103.9 408.1L104.6 408.1L105.4 408.1L106.1 339.4L106.9 338.5L107.6 408.1L108.4 380.6L109.1 351.7L109.8 338.9L110.6 376.8L111.3 331.0L112.1 408.1L112.8 408.1L113.6 408.1L114.3 408.1L115.1 408.1L115.8 338.3L116.5 357.8L117.3 408.1L118.0 353.3L118.8 408.1L119.5 408.1L120.3 347.3L121.0 343.3L121.7 408.1L122.5 339.6L123.2 329.9L124.0 408.1L124.7 342.4L125.5 408.1L126.2 408.1L127.0 345.1L127.7 408.1L128.4 362.3L129.2 408.1L129.9 408.1L130.7 341.2L131.4 331.0L132.2 408.1L132.9 408.1L133.7 335.0L134.4 345.3L135.1 343.5L135.9 363.8L136.6 327.0L137.4 385.6L138.1 347.5L138.9 408.1L139.6 408.1L140.3 408.1L141.1 408.1L141.8 353.2L142.6 408.1L143.3 330.9L144.1 408.1L144.8 408.1L145.6 359.2L146.3 408.1L147.0 346.0L147.8 344.6L148.5 408.1L149.3 329.6L150.0 382.5L150.8 356.5L151.5 408.1L152.3 408.1L153.0 408.1L153.7 408.1L154.5 408.1L155.2 341.9L156.0 408.1L156.7 408.1L157.5 408.1L158.2 334.3L158.9 408.1L159.7 408.1L160.4 408.1L161.2 339.7L161.9 408.1L162.7 360.3L163.4 408.1L164.2 336.1L164.9 351.3L165.6 346.5L166.4 335.4L167.1 408.1L167.9 408.1L168.6 342.8L169.4 350.1L170.1 408.1L170.9 408.1L171.6 408.1L172.3 342.8L173.1 339.2L173.8 408.1L174.6 329.8L175.3 408.1L176.1 408.1L176.8 331.0L177.5 408.1L178.3 408.1L179.0 333.7L179.8 346.6L180.5 408.1L181.3 341.7L182.0 408.1L182.8 408.1L183.5 408.1L184.2 408.1L185.0 408.1L185.7 408.1L186.5 408.1L187.2 394.1L188.0 408.1L188.7 342.2L189.5 408.1L190.2 408.1L190.9 408.1L191.7 408.1L192.4 332.4L193.2 340.4L193.9 408.1L194.7 339.0L195.4 408.1L196.1 338.0L196.9 408.1L197.6 341.8L198.4 344.7L199.1 408.1L199.9 353.9L200.6 408.1L201.4 408.1L202.1 337.1L202.8 319.6L203.6 343.0L204.3 378.4L205.1 408.1L205.8 337.4L206.6 408.1L207.3 408.1L208.1 352.2L208.8 408.1L209.5 332.2L210.3 336.5L211.0 408.1L211.8 408.1L212.5 408.1L213.3 408.1L214.0 342.2L214.7 337.8L215.5 339.8L216.2 338.9L217.0 355.5L217.7 333.7L218.5 408.1L219.2 333.5L220.0 323.4L220.7 323.4L221.4 333.9L222.2 332.1L222.9 322.3L223.7 320.8L224.4 350.2L225.2 333.1L225.9 328.3L226.7 323.2L227.4 336.8L228.1 324.9L228.9 328.9L229.6 317.0L230.4 321.8L231.1 322.0L231.9 320.6L232.6 315.1L233.3 314.5L234.1 316.7L234.8 313.1L235.6 314.7L236.3 313.1L237.1 313.5L237.8 313.5L238.6 312.8L239.3 313.7L240.0 312.2L240.8 312.8L241.5 315.8L242.3 323.9L243.0 315.1L243.8 394.2L244.5 408.1L245.3 319.6L246.0 321.0L246.7 319.3L247.5 327.9L248.2 343.5L249.0 324.9L249.7 315.3L250.5 317.8L251.2 313.5L251.9 311.8L252.7 306.6L253.4 301.9L254.2 300.1L254.9 299.5L255.7 297.9L256.4 296.5L257.2 295.3L257.9 296.2L258.6 296.3L259.4 298.6L260.1 299.5L260.9 300.1L261.6 301.8L262.4 306.6L263.1 309.2L263.9 309.8L264.6 315.6L265.3 320.3L266.1 320.3L266.8 325.3L267.6 323.4L268.3 326.5L269.1 336.6L269.8 324.5L270.5 315.1L271.3 307.0L272.0 298.6L272.8 291.6L273.5 286.8L274.3 282.5L275.0 279.7L275.8 277.9L276.5 276.8L277.2 276.4L278.0 276.4L278.7 276.9L279.5 277.8L280.2 279.7L281.0 282.3L281.7 286.2L282.5 291.6L283.2 297.7L283.9 305.0L284.7 312.0L285.4 318.0L286.2 317.7L286.9 329.1L287.7 320.6L288.4 321.0L289.1 322.3L289.9 319.6L290.6 317.9L291.4 312.0L292.1 301.8L292.9 289.6L293.6 276.0L294.4 264.3L295.1 254.3L295.8 246.3L296.6 240.3L297.3 236.2L298.1 233.9L298.8 233.2L299.6 233.9L300.3 236.2L301.1 240.3L301.8 246.2L302.5 254.1L303.3 263.8L304.0 274.5L304.8 284.9L305.5 291.0L306.3 290.9L307.0 285.8L307.7 275.5L308.5 262.2L309.2 248.8L310.0 236.3L310.7 225.1L311.5 215.4L312.2 207.0L313.0 200.0L313.7 194.3L314.4 189.9L315.2 186.7L315.9 184.6L316.7 183.5L317.4 183.2L318.2 183.5L318.9 184.6L319.7 186.7L320.4 189.9L321.1 194.3L321.9 200.0L322.6 207.0L323.4 215.3L324.1 225.1L324.9 236.1L325.6 248.2L326.3 259.6L327.1 264.2L327.8 257.8L328.6 246.9L329.3 235.8L330.1 225.4L330.8 215.9L331.6 207.5L332.3 200.1L333.0 193.8L333.8 188.6L334.5 184.4L335.3 181.2L336.0 179.2L336.8 178.1L337.5 178.1L338.3 179.2L339.0 181.2L339.7 184.4L340.5 188.6L341.2 193.8L342.0 200.1L342.7 207.5L343.5 215.9L344.2 225.4L344.9 235.8L345.7 246.6L346.4 254.4L347.2 250.4L347.9 238.2L348.7 226.0L349.4 215.6L350.2 207.1L350.9 200.5L351.6 195.6L352.4 192.4L353.1 190.5L353.9 189.8L354.6 189.8L355.4 190.5L356.1 192.4L356.9 195.6L357.6 200.5L358.3 207.1L359.1 215.6L359.8 226.1L360.6 238.7L361.3 253.2L362.1 269.1L362.8 283.8L363.5 293.3L364.3 296.6L365.0 298.4L365.8 299.4L366.5 300.9L367.3 302.6L368.0 302.7L368.8 300.7L369.5 295.9L370.2 286.5L371.0 277.3L371.7 268.4L372.5 261.3L373.2 256.2L374.0 253.4L374.7 253.4L375.5 256.2L376.2 261.4L376.9 268.6L377.7 277.9L378.4 288.7L379.2 300.1L379.9 310.5L380.7 408.1L381.4 408.1L382.1 408.1L382.9 408.1L383.6 359.5L384.4 338.6L385.1 343.8L385.9 408.1L386.6 386.1L387.4 330.3L388.1 408.1L388.8 352.9L389.6 331.8L390.3 351.3L391.1 408.1L391.8 350.2L392.6 408.1L393.3 408.1L394.1 337.0L394.8 347.3L395.5 408.1L396.3 339.1L397.0 348.3L397.8 366.6L398.5 353.1L399.3 355.3L400.0 408.1L400.7 408.1L401.5 385.0L402.2 408.1L403.0 408.1L403.7 334.2L404.5 408.1L405.2 408.1L406.0 408.1L406.7 385.9L407.4 386.3L408.2 372.8L408.9 408.1L409.7 338.5L410.4 408.1L411.2 337.2L411.9 408.1L412.7 408.1L413.4 337.7L414.1 408.1L414.9 408.1L415.6 350.2L416.4 408.1L417.1 370.6L417.9 408.1L418.6 408.1L419.3 408.1L420.1 345.5L420.8 339.3L421.6 408.1L422.3 331.5L423.1 408.1L423.8 408.1L424.6 408.1L425.3 332.1L426.0 408.1L426.8 408.1L427.5 408.1L428.3 408.1L429.0 333.7L429.8 408.1L430.5 330.1L431.3 408.1L432.0 408.1L432.7 339.8L433.5 408.1L434.2 408.1L435.0 331.8L435.7 408.1L436.5 335.7L437.2 408.1L437.9 408.1L438.7 346.3L439.4 408.1L440.2 335.0L440.9 338.1L441.7 373.2L442.4 344.0L443.2 345.0L443.9 408.1L444.6 339.0L445.4 408.1L446.1 343.8L446.9 408.1L447.6 367.0L448.4 348.9L449.1 408.1L449.9 408.1L450.6 408.1L451.3 341.6L452.1 408.1L452.8 348.1L453.6 332.1L454.3 350.7L455.1 408.1L455.8 363.8L456.5 337.0L457.3 408.1L458.0 336.2L458.8 343.7L459.5 348.5L460.3 408.1L461.0 408.1L461.8 408.1L462.5 371.6L463.2 345.7L464.0 348.5L464.7 408.1L465.5 370.9L466.2 349.5L467.0 408.1L467.7 408.1L468.5 408.1L469.2 408.1L469.9 408.1L470.7 408.1L471.4 408.1L472.2 342.5L472.9 353.5L473.7 408.1L474.4 383.8L475.1 408.1L475.9 330.6L476.6 408.1L477.4 408.1L478.1 367.3L478.9 408.1L479.6 408.1L480.4 331.9L481.1 355.8L481.8 339.7L482.6 335.9L483.3 408.1L484.1 330.7L484.8 342.1L485.6 337.9L486.3 408.1L487.1 339.9L487.8 348.4L488.5 408.1L489.3 326.9L490.0 344.5L490.8 408.1L491.5 357.5L492.3 338.6L493.0 335.8L493.7 344.2L494.5 334.9L495.2 332.5L496.0 408.1L496.7 408.1L497.5 408.1L498.2 365.2L499.0 332.7L499.7 342.7L500.4 408.1L501.2 408.1L501.9 337.0L502.7 408.1L503.4 408.1L504.2 352.1L504.9 408.1L505.7 340.5L506.4 350.7L507.1 344.4L507.9 408.1L508.6 408.1L509.4 408.1L510.1 354.4L510.9 368.5L511.6 362.2L512.3 330.0L513.1 334.0L513.8 408.1L514.6 408.1L515.3 330.5L516.1 408.1L516.8 333.3L517.6 331.4L518.3 408.1L519.0 408.1L519.8 366.9L520.5 408.1L521.3 408.1L522.0 408.1L522.8 339.4L523.5 408.1L524.3 408.1L525.0 408.1L525.7 408.1L526.5 332.3L527.2 408.1L528.0 408.1L528.7 344.6L529.5 408.1L530.2 343.7L530.9 334.5L531.7 408.1L532.4 356.6L533.2 408.1L533.9 345.9L534.7 366.2L535.4 356.2L536.2 333.4L536.9 346.8L537.6 333.6L538.4 343.1L539.1 408.1L539.9 353.9L540.6 346.3L541.4 408.1L542.1 333.7L542.9 369.0L543.6 349.8L544.3 408.1L545.1 368.3L545.8 352.3L546.6 408.1L547.3 367.2L548.1 408.1L548.8 333.4L549.5 408.1L550.3 408.1L551.0 408.1L551.8 408.1L552.5 345.0L553.3 408.1L554.0 353.0L554.8 408.1L555.5 327.3L556.2 345.0L557.0 328.8L557.7 408.1L558.5 342.5L559.2 408.1L560.0 344.3L560.7 342.3L561.5 408.1L562.2 408.1L562.9 408.1L563.7 408.1L564.4 408.1L565.2 408.1L565.9 408.1L566.7 365.6L567.4 345.0L568.1 408.1L568.9 408.1L569.6 386.6L570.4 408.1L571.1 408.1L571.9 340.1L572.6 339.5L573.4 342.3L574.1 408.1L574.8 328.7L575.6 330.4L576.3 408.1L577.1 408.1L577.8 335.3L578.6 408.1L579.3 349.1L580.1 374.4L580.8 408.1L581.5 408.1L582.3 408.1L583.0 408.1L583.8 408.1L584.5 326.9L585.3 332.3L586.0 334.9L586.7 352.6L587.5 337.5L588.2 334.4L589.0 337.3L589.7 338.6L590.5 408.1L591.2 348.3L592.0 408.1L592.7 408.1L593.4 408.1L594.2 348.4L594.9 336.9L595.7 408.1L596.4 330.4L597.2 332.6L597.9 408.1L598.7 408.1L599.4 408.1L600.1 337.8L600.9 408.1L601.6 408.1L602.4 351.2L603.1 408.1L603.9 362.6L604.6 335.7L605.3 352.8L606.1 340.8L606.8 346.7L607.6 341.7L608.3 362.4L609.1 408.1L609.8 408.1L610.6 408.1L611.3 334.6L612.0 331.3L612.8 348.7L613.5 408.1L614.3 408.1L615.0 408.1L615.8 333.4L616.5 351.7L617.3 408.1L618.0 408.1L618.7 339.2L619.5 353.6L620.2 408.1L621.0 366.8L621.7 330.9L622.5 408.1L623.2 330.9L623.9 334.8L624.7 375.6L625.4 339.2L626.2 408.1L626.9 408.1L627.7 408.1L628.4 408.1L629.2 346.2L629.9 391.9L630.6 344.9L631.4 340.1L632.1 408.1L632.9 352.6L633.6 408.1L634.4 360.7L635.1 408.1L635.9 366.7L636.6 333.6L637.3 408.1L638.1 358.9L638.8 408.1L639.6 408.1L640.3 343.2L641.1 381.0L641.8 408.1L642.5 408.1L643.3 322.6L644.0 408.1L644.8 408.1L645.5 408.1L646.3 408.1L647.0 408.1L647.8 408.1L648.5 408.1" stroke="#7f7f7f"/>
</g>
<rect x="90.5" y="52.5" width="558.0" height="326.0" fill="none" stroke="#cccccc" stroke-width="1"/>
<g font-size="15.5" fill="#222222" letter-spacing="-1.3"><text transform="translate(90.4 391.8) scale(1 1.02)" text-anchor="middle">840</text><text transform="translate(164.8 391.8) scale(1 1.02)" text-anchor="middle">842</text><text transform="translate(239.2 391.8) scale(1 1.02)" text-anchor="middle">844</text><text transform="translate(313.6 391.8) scale(1 1.02)" text-anchor="middle">846</text><text transform="translate(388.0 391.8) scale(1 1.02)" text-anchor="middle">848</text><text transform="translate(462.4 391.8) scale(1 1.02)" text-anchor="middle">850</text><text transform="translate(536.8 391.8) scale(1 1.02)" text-anchor="middle">852</text><text transform="translate(611.2 391.8) scale(1 1.02)" text-anchor="middle">854</text></g>
<g font-size="15.5" fill="#222222" letter-spacing="-1.1"><text transform="translate(85.5 57.6) scale(1 1.02)" text-anchor="end">20</text><text transform="translate(85.5 116.9) scale(1 1.02)" text-anchor="end">0</text><text transform="translate(85.5 176.1) scale(1 1.02)" text-anchor="end">−20</text><text transform="translate(85.5 235.4) scale(1 1.02)" text-anchor="end">−40</text><text transform="translate(85.5 294.7) scale(1 1.02)" text-anchor="end">−60</text><text transform="translate(85.5 354.0) scale(1 1.02)" text-anchor="end">−80</text></g>
<text x="369.5" y="46" font-size="17.4" fill="#222222" text-anchor="middle">D4636 V207 8 Post Burn-In</text>
<path d="M363.60 46.00L362.07 46.00L362.07 36.25L361.56 36.74L360.81 37.31L359.99 37.78L359.01 38.19L359.01 36.71L359.84 36.32L360.78 35.74L361.61 35.07L362.36 34.24L362.92 33.54L363.60 33.54Z" fill="#222222"/>
<text x="368.3" y="412" font-size="17.4" fill="#222222" text-anchor="middle">Wavelength [nm]</text>
<text transform="translate(53.6 215.3) rotate(-90)" font-size="17.4" fill="#222222" text-anchor="middle">Optical Power [dB]</text>
<rect x="97.6" y="59.6" width="86.8" height="152.5" rx="3" fill="#fff" fill-opacity="0.8" stroke="#cccccc" stroke-opacity="0.8" stroke-width="1"/>
<path d="M103.3 71.10H131.6" stroke="#bcbd22" stroke-width="1.9" stroke-linecap="round"/><text x="143.2" y="75.80" font-size="14.2" fill="#222222">Ch.  </text><path d="M174.91 75.80L173.66 75.80L173.66 67.85L173.25 68.24L172.63 68.71L171.96 69.10L171.17 69.43L171.17 68.22L171.84 67.90L172.61 67.42L173.28 66.88L173.90 66.20L174.36 65.64L174.91 65.64Z" fill="#222222"/><path d="M103.3 92.22H131.6" stroke="#ff7f0e" stroke-width="1.9" stroke-linecap="round"/><text x="143.2" y="96.92" font-size="14.2" fill="#222222">Ch. 2</text><path d="M103.3 113.34H131.6" stroke="#d62728" stroke-width="1.9" stroke-linecap="round"/><text x="143.2" y="118.04" font-size="14.2" fill="#222222">Ch. 3</text><path d="M103.3 134.46H131.6" stroke="#9467bd" stroke-width="1.9" stroke-linecap="round"/><text x="143.2" y="139.16" font-size="14.2" fill="#222222">Ch. 4</text><path d="M103.3 155.58H131.6" stroke="#1f77b4" stroke-width="1.9" stroke-linecap="round"/><text x="143.2" y="160.28" font-size="14.2" fill="#222222">Ch. 5</text><path d="M103.3 176.70H131.6" stroke="#17becf" stroke-width="1.9" stroke-linecap="round"/><text x="143.2" y="181.40" font-size="14.2" fill="#222222">Ch. 6</text><path d="M103.3 197.82H131.6" stroke="#7f7f7f" stroke-width="1.9" stroke-linecap="round"/><text x="143.2" y="202.52" font-size="14.2" fill="#222222">Ch. 7</text>
</svg></body></html>
